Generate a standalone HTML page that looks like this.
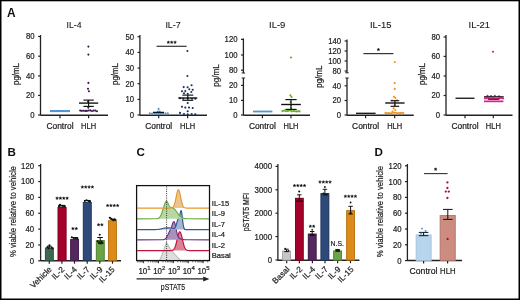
<!DOCTYPE html>
<html><head><meta charset="utf-8"><style>
html,body{margin:0;padding:0;background:#fff;}
svg{display:block;font-family:"Liberation Sans", sans-serif;}
svg{will-change:transform;}
</style></head><body>
<svg width="520" height="300" viewBox="0 0 520 300">
<rect x="0" y="0" width="520" height="300" fill="#fff"/>
<text x="6.90" y="16.70" font-size="11.9" text-anchor="start" font-weight="bold" fill="#111" stroke="#111" stroke-width="0" >A</text>
<text x="74.00" y="28.40" font-size="9.9" text-anchor="middle" font-weight="normal" fill="#1a1a1a" stroke="#1a1a1a" stroke-width="0.12" textLength="15" lengthAdjust="spacingAndGlyphs" >IL-4</text>
<line x1="40.50" y1="35.00" x2="40.50" y2="115.30" stroke="#222" stroke-width="1.3" />
<line x1="38.10" y1="115.00" x2="40.50" y2="115.00" stroke="#222" stroke-width="1.2" />
<text x="34.60" y="117.90" font-size="8.5" text-anchor="end" font-weight="normal" fill="#222" stroke="#222" stroke-width="0.22" textLength="4.3" lengthAdjust="spacingAndGlyphs" >0</text>
<line x1="38.10" y1="95.40" x2="40.50" y2="95.40" stroke="#222" stroke-width="1.2" />
<text x="34.60" y="98.30" font-size="8.5" text-anchor="end" font-weight="normal" fill="#222" stroke="#222" stroke-width="0.22" textLength="8.6" lengthAdjust="spacingAndGlyphs" >20</text>
<line x1="38.10" y1="75.90" x2="40.50" y2="75.90" stroke="#222" stroke-width="1.2" />
<text x="34.60" y="78.80" font-size="8.5" text-anchor="end" font-weight="normal" fill="#222" stroke="#222" stroke-width="0.22" textLength="8.6" lengthAdjust="spacingAndGlyphs" >40</text>
<line x1="38.10" y1="56.20" x2="40.50" y2="56.20" stroke="#222" stroke-width="1.2" />
<text x="34.60" y="59.10" font-size="8.5" text-anchor="end" font-weight="normal" fill="#222" stroke="#222" stroke-width="0.22" textLength="8.6" lengthAdjust="spacingAndGlyphs" >60</text>
<line x1="38.10" y1="36.50" x2="40.50" y2="36.50" stroke="#222" stroke-width="1.2" />
<text x="34.60" y="39.40" font-size="8.5" text-anchor="end" font-weight="normal" fill="#222" stroke="#222" stroke-width="0.22" textLength="8.6" lengthAdjust="spacingAndGlyphs" >80</text>
<line x1="40.50" y1="115.20" x2="108.00" y2="115.20" stroke="#222" stroke-width="1.35" />
<line x1="60.00" y1="115.20" x2="60.00" y2="118.20" stroke="#222" stroke-width="1.2" />
<line x1="88.60" y1="115.20" x2="88.60" y2="118.20" stroke="#222" stroke-width="1.2" />
<text x="60.00" y="128.60" font-size="8.2" text-anchor="middle" font-weight="normal" fill="#222" stroke="#222" stroke-width="0.22" textLength="27" lengthAdjust="spacingAndGlyphs" >Control</text>
<text x="88.60" y="128.60" font-size="8.2" text-anchor="middle" font-weight="normal" fill="#222" stroke="#222" stroke-width="0.22" textLength="15" lengthAdjust="spacingAndGlyphs" >HLH</text>
<text x="19.40" y="74.00" font-size="9.0" text-anchor="middle" font-weight="normal" fill="#222" stroke="#222" stroke-width="0.22" textLength="22" lengthAdjust="spacingAndGlyphs" transform="rotate(-90 19.4 74)" >pg/mL</text>
<rect x="50.00" y="110.00" width="20.00" height="2.10" fill="#4f95dc" />
<circle cx="88.40" cy="46.60" r="1.05" fill="#3a1555"/>
<circle cx="88.40" cy="54.60" r="1.05" fill="#3a1555"/>
<circle cx="88.40" cy="82.90" r="1.05" fill="#3a1555"/>
<circle cx="88.00" cy="88.70" r="1.05" fill="#3a1555"/>
<circle cx="88.90" cy="91.30" r="1.05" fill="#3a1555"/>
<circle cx="88.00" cy="101.70" r="1.05" fill="#3a1555"/>
<circle cx="88.30" cy="107.60" r="1.05" fill="#3a1555"/>
<circle cx="80.20" cy="110.59" r="1.05" fill="#3a1555"/>
<circle cx="81.88" cy="110.84" r="1.05" fill="#3a1555"/>
<circle cx="83.56" cy="110.70" r="1.05" fill="#3a1555"/>
<circle cx="85.24" cy="110.88" r="1.05" fill="#3a1555"/>
<circle cx="86.92" cy="110.90" r="1.05" fill="#3a1555"/>
<circle cx="88.60" cy="110.45" r="1.05" fill="#3a1555"/>
<circle cx="90.28" cy="110.41" r="1.05" fill="#3a1555"/>
<circle cx="91.96" cy="111.07" r="1.05" fill="#3a1555"/>
<circle cx="93.64" cy="110.61" r="1.05" fill="#3a1555"/>
<circle cx="95.32" cy="110.59" r="1.05" fill="#3a1555"/>
<circle cx="97.00" cy="111.20" r="1.05" fill="#3a1555"/>
<line x1="79.00" y1="103.10" x2="98.20" y2="103.10" stroke="#111" stroke-width="1.38" />
<line x1="83.40" y1="100.10" x2="93.80" y2="100.10" stroke="#111" stroke-width="1.15" />
<line x1="83.40" y1="106.40" x2="93.80" y2="106.40" stroke="#111" stroke-width="1.15" />
<line x1="88.60" y1="100.10" x2="88.60" y2="106.40" stroke="#111" stroke-width="1.15" />
<text x="173.10" y="28.40" font-size="9.9" text-anchor="middle" font-weight="normal" fill="#1a1a1a" stroke="#1a1a1a" stroke-width="0.12" textLength="15.4" lengthAdjust="spacingAndGlyphs" >IL-7</text>
<line x1="139.90" y1="35.00" x2="139.90" y2="115.30" stroke="#222" stroke-width="1.3" />
<line x1="137.50" y1="115.00" x2="139.90" y2="115.00" stroke="#222" stroke-width="1.2" />
<text x="134.00" y="117.90" font-size="8.5" text-anchor="end" font-weight="normal" fill="#222" stroke="#222" stroke-width="0.22" textLength="4.3" lengthAdjust="spacingAndGlyphs" >0</text>
<line x1="137.50" y1="99.40" x2="139.90" y2="99.40" stroke="#222" stroke-width="1.2" />
<text x="134.00" y="102.30" font-size="8.5" text-anchor="end" font-weight="normal" fill="#222" stroke="#222" stroke-width="0.22" textLength="8.6" lengthAdjust="spacingAndGlyphs" >10</text>
<line x1="137.50" y1="83.70" x2="139.90" y2="83.70" stroke="#222" stroke-width="1.2" />
<text x="134.00" y="86.60" font-size="8.5" text-anchor="end" font-weight="normal" fill="#222" stroke="#222" stroke-width="0.22" textLength="8.6" lengthAdjust="spacingAndGlyphs" >20</text>
<line x1="137.50" y1="68.10" x2="139.90" y2="68.10" stroke="#222" stroke-width="1.2" />
<text x="134.00" y="71.00" font-size="8.5" text-anchor="end" font-weight="normal" fill="#222" stroke="#222" stroke-width="0.22" textLength="8.6" lengthAdjust="spacingAndGlyphs" >30</text>
<line x1="137.50" y1="52.40" x2="139.90" y2="52.40" stroke="#222" stroke-width="1.2" />
<text x="134.00" y="55.30" font-size="8.5" text-anchor="end" font-weight="normal" fill="#222" stroke="#222" stroke-width="0.22" textLength="8.6" lengthAdjust="spacingAndGlyphs" >40</text>
<line x1="137.50" y1="36.80" x2="139.90" y2="36.80" stroke="#222" stroke-width="1.2" />
<text x="134.00" y="39.70" font-size="8.5" text-anchor="end" font-weight="normal" fill="#222" stroke="#222" stroke-width="0.22" textLength="8.6" lengthAdjust="spacingAndGlyphs" >50</text>
<line x1="139.90" y1="115.20" x2="207.00" y2="115.20" stroke="#222" stroke-width="1.35" />
<line x1="158.70" y1="115.20" x2="158.70" y2="118.20" stroke="#222" stroke-width="1.2" />
<line x1="187.60" y1="115.20" x2="187.60" y2="118.20" stroke="#222" stroke-width="1.2" />
<text x="158.70" y="128.60" font-size="8.2" text-anchor="middle" font-weight="normal" fill="#222" stroke="#222" stroke-width="0.22" textLength="27" lengthAdjust="spacingAndGlyphs" >Control</text>
<text x="187.60" y="128.60" font-size="8.2" text-anchor="middle" font-weight="normal" fill="#222" stroke="#222" stroke-width="0.22" textLength="15" lengthAdjust="spacingAndGlyphs" >HLH</text>
<text x="118.40" y="74.00" font-size="9.0" text-anchor="middle" font-weight="normal" fill="#222" stroke="#222" stroke-width="0.22" textLength="22" lengthAdjust="spacingAndGlyphs" transform="rotate(-90 118.4 74)" >pg/mL</text>
<line x1="156.60" y1="46.30" x2="186.60" y2="46.30" stroke="#333" stroke-width="1.2" />
<polygon points="168.35,40.75 168.77,41.72 169.82,41.82 169.03,42.52 169.26,43.55 168.35,43.02 167.44,43.55 167.67,42.52 166.88,41.82 167.93,41.72" fill="#111" stroke="#111" stroke-width="0.35"/>
<polygon points="171.70,40.75 172.12,41.72 173.17,41.82 172.38,42.52 172.61,43.55 171.70,43.02 170.79,43.55 171.02,42.52 170.23,41.82 171.28,41.72" fill="#111" stroke="#111" stroke-width="0.35"/>
<polygon points="175.05,40.75 175.47,41.72 176.52,41.82 175.73,42.52 175.96,43.55 175.05,43.02 174.14,43.55 174.37,42.52 173.58,41.82 174.63,41.72" fill="#111" stroke="#111" stroke-width="0.35"/>
<circle cx="187.40" cy="51.00" r="1.05" fill="#12306f"/>
<circle cx="187.40" cy="76.00" r="1.05" fill="#12306f"/>
<circle cx="191.60" cy="85.30" r="1.05" fill="#12306f"/>
<circle cx="183.70" cy="87.10" r="1.05" fill="#12306f"/>
<circle cx="187.60" cy="87.30" r="1.05" fill="#12306f"/>
<circle cx="189.30" cy="89.30" r="1.05" fill="#12306f"/>
<circle cx="192.70" cy="89.70" r="1.05" fill="#12306f"/>
<circle cx="182.00" cy="91.30" r="1.05" fill="#12306f"/>
<circle cx="185.30" cy="91.10" r="1.05" fill="#12306f"/>
<circle cx="191.30" cy="92.00" r="1.05" fill="#12306f"/>
<circle cx="184.00" cy="93.30" r="1.05" fill="#12306f"/>
<circle cx="187.70" cy="93.70" r="1.05" fill="#12306f"/>
<circle cx="180.00" cy="98.30" r="1.05" fill="#12306f"/>
<circle cx="183.30" cy="98.70" r="1.05" fill="#12306f"/>
<circle cx="187.70" cy="98.20" r="1.05" fill="#12306f"/>
<circle cx="192.00" cy="98.70" r="1.05" fill="#12306f"/>
<circle cx="195.30" cy="98.70" r="1.05" fill="#12306f"/>
<circle cx="187.70" cy="103.00" r="1.05" fill="#12306f"/>
<circle cx="182.00" cy="106.70" r="1.05" fill="#12306f"/>
<circle cx="185.30" cy="107.60" r="1.05" fill="#12306f"/>
<circle cx="189.00" cy="107.60" r="1.05" fill="#12306f"/>
<circle cx="192.70" cy="108.00" r="1.05" fill="#12306f"/>
<circle cx="187.70" cy="111.30" r="1.05" fill="#12306f"/>
<circle cx="180.00" cy="112.90" r="1.05" fill="#12306f"/>
<circle cx="184.00" cy="114.00" r="1.05" fill="#12306f"/>
<circle cx="187.70" cy="114.30" r="1.05" fill="#12306f"/>
<circle cx="191.70" cy="114.00" r="1.05" fill="#12306f"/>
<circle cx="195.30" cy="114.30" r="1.05" fill="#12306f"/>
<line x1="178.30" y1="98.00" x2="197.30" y2="98.00" stroke="#111" stroke-width="1.38" />
<line x1="182.30" y1="95.10" x2="193.30" y2="95.10" stroke="#111" stroke-width="1.15" />
<line x1="182.30" y1="100.30" x2="193.30" y2="100.30" stroke="#111" stroke-width="1.15" />
<line x1="187.80" y1="95.10" x2="187.80" y2="100.30" stroke="#111" stroke-width="1.15" />
<circle cx="149.80" cy="113.29" r="1.05" fill="#4f95dc"/>
<circle cx="152.05" cy="113.43" r="1.05" fill="#4f95dc"/>
<circle cx="154.30" cy="113.29" r="1.05" fill="#4f95dc"/>
<circle cx="156.55" cy="113.36" r="1.05" fill="#4f95dc"/>
<circle cx="158.80" cy="113.16" r="1.05" fill="#4f95dc"/>
<circle cx="161.05" cy="113.35" r="1.05" fill="#4f95dc"/>
<circle cx="163.30" cy="113.45" r="1.05" fill="#4f95dc"/>
<circle cx="165.55" cy="113.31" r="1.05" fill="#4f95dc"/>
<circle cx="167.80" cy="113.40" r="1.05" fill="#4f95dc"/>
<rect x="154.00" y="113.50" width="10.00" height="1.20" fill="#4f95dc" />
<circle cx="158.60" cy="108.90" r="1.05" fill="#4f95dc"/>
<circle cx="157.80" cy="111.60" r="1.05" fill="#4f95dc"/>
<circle cx="159.70" cy="111.60" r="1.05" fill="#4f95dc"/>
<line x1="153.00" y1="112.40" x2="164.00" y2="112.40" stroke="#111" stroke-width="1.3" />
<text x="277.20" y="28.40" font-size="9.9" text-anchor="middle" font-weight="normal" fill="#1a1a1a" stroke="#1a1a1a" stroke-width="0.12" textLength="16.4" lengthAdjust="spacingAndGlyphs" >IL-9</text>
<line x1="243.40" y1="38.40" x2="243.40" y2="73.00" stroke="#222" stroke-width="1.3" />
<line x1="241.70" y1="73.00" x2="245.10" y2="73.00" stroke="#222" stroke-width="1.0" />
<line x1="243.40" y1="78.00" x2="243.40" y2="115.30" stroke="#222" stroke-width="1.3" />
<line x1="241.70" y1="78.00" x2="245.10" y2="78.00" stroke="#222" stroke-width="1.0" />
<line x1="241.00" y1="39.40" x2="243.40" y2="39.40" stroke="#222" stroke-width="1.2" />
<text x="237.50" y="42.30" font-size="8.5" text-anchor="end" font-weight="normal" fill="#222" stroke="#222" stroke-width="0.22" textLength="12.899999999999999" lengthAdjust="spacingAndGlyphs" >120</text>
<line x1="241.00" y1="55.00" x2="243.40" y2="55.00" stroke="#222" stroke-width="1.2" />
<text x="237.50" y="57.90" font-size="8.5" text-anchor="end" font-weight="normal" fill="#222" stroke="#222" stroke-width="0.22" textLength="12.899999999999999" lengthAdjust="spacingAndGlyphs" >100</text>
<line x1="241.00" y1="70.20" x2="243.40" y2="70.20" stroke="#222" stroke-width="1.2" />
<text x="237.50" y="73.10" font-size="8.5" text-anchor="end" font-weight="normal" fill="#222" stroke="#222" stroke-width="0.22" textLength="8.6" lengthAdjust="spacingAndGlyphs" >80</text>
<line x1="241.00" y1="85.40" x2="243.40" y2="85.40" stroke="#222" stroke-width="1.2" />
<text x="237.50" y="88.30" font-size="8.5" text-anchor="end" font-weight="normal" fill="#222" stroke="#222" stroke-width="0.22" textLength="8.6" lengthAdjust="spacingAndGlyphs" >20</text>
<line x1="241.00" y1="100.40" x2="243.40" y2="100.40" stroke="#222" stroke-width="1.2" />
<text x="237.50" y="103.30" font-size="8.5" text-anchor="end" font-weight="normal" fill="#222" stroke="#222" stroke-width="0.22" textLength="8.6" lengthAdjust="spacingAndGlyphs" >10</text>
<line x1="241.00" y1="115.00" x2="243.40" y2="115.00" stroke="#222" stroke-width="1.2" />
<text x="237.50" y="117.90" font-size="8.5" text-anchor="end" font-weight="normal" fill="#222" stroke="#222" stroke-width="0.22" textLength="4.3" lengthAdjust="spacingAndGlyphs" >0</text>
<line x1="243.40" y1="115.20" x2="310.00" y2="115.20" stroke="#222" stroke-width="1.35" />
<line x1="262.40" y1="115.20" x2="262.40" y2="118.20" stroke="#222" stroke-width="1.2" />
<line x1="291.00" y1="115.20" x2="291.00" y2="118.20" stroke="#222" stroke-width="1.2" />
<text x="262.40" y="128.60" font-size="8.2" text-anchor="middle" font-weight="normal" fill="#222" stroke="#222" stroke-width="0.22" textLength="27" lengthAdjust="spacingAndGlyphs" >Control</text>
<text x="291.00" y="128.60" font-size="8.2" text-anchor="middle" font-weight="normal" fill="#222" stroke="#222" stroke-width="0.22" textLength="15" lengthAdjust="spacingAndGlyphs" >HLH</text>
<text x="218.80" y="75.60" font-size="9.0" text-anchor="middle" font-weight="normal" fill="#222" stroke="#222" stroke-width="0.22" textLength="22.5" lengthAdjust="spacingAndGlyphs" transform="rotate(-90 218.8 75.6)" >pg/mL</text>
<rect x="253.00" y="110.60" width="19.40" height="1.80" fill="#4f95dc" />
<circle cx="291.00" cy="57.50" r="1.05" fill="#5fae25"/>
<circle cx="290.40" cy="95.40" r="1.05" fill="#5fae25"/>
<circle cx="291.60" cy="97.00" r="1.05" fill="#5fae25"/>
<circle cx="290.70" cy="102.10" r="1.05" fill="#5fae25"/>
<circle cx="291.10" cy="105.00" r="1.05" fill="#5fae25"/>
<circle cx="291.00" cy="108.00" r="1.05" fill="#5fae25"/>
<circle cx="290.00" cy="110.00" r="1.05" fill="#5fae25"/>
<circle cx="282.50" cy="111.17" r="1.05" fill="#5fae25"/>
<circle cx="284.05" cy="110.56" r="1.05" fill="#5fae25"/>
<circle cx="285.59" cy="111.26" r="1.05" fill="#5fae25"/>
<circle cx="287.14" cy="111.09" r="1.05" fill="#5fae25"/>
<circle cx="288.68" cy="110.80" r="1.05" fill="#5fae25"/>
<circle cx="290.23" cy="110.53" r="1.05" fill="#5fae25"/>
<circle cx="291.77" cy="111.37" r="1.05" fill="#5fae25"/>
<circle cx="293.32" cy="110.97" r="1.05" fill="#5fae25"/>
<circle cx="294.86" cy="111.22" r="1.05" fill="#5fae25"/>
<circle cx="296.41" cy="111.38" r="1.05" fill="#5fae25"/>
<circle cx="297.95" cy="111.21" r="1.05" fill="#5fae25"/>
<circle cx="299.50" cy="111.42" r="1.05" fill="#5fae25"/>
<line x1="281.15" y1="104.50" x2="300.85" y2="104.50" stroke="#111" stroke-width="1.38" />
<line x1="285.35" y1="99.60" x2="296.65" y2="99.60" stroke="#111" stroke-width="1.15" />
<line x1="285.35" y1="109.40" x2="296.65" y2="109.40" stroke="#111" stroke-width="1.15" />
<line x1="291.00" y1="99.60" x2="291.00" y2="109.40" stroke="#111" stroke-width="1.15" />
<text x="380.70" y="28.40" font-size="9.9" text-anchor="middle" font-weight="normal" fill="#1a1a1a" stroke="#1a1a1a" stroke-width="0.12" textLength="21.5" lengthAdjust="spacingAndGlyphs" >IL-15</text>
<line x1="347.00" y1="39.50" x2="347.00" y2="72.80" stroke="#222" stroke-width="1.3" />
<line x1="345.30" y1="72.80" x2="348.70" y2="72.80" stroke="#222" stroke-width="1.0" />
<line x1="347.00" y1="78.00" x2="347.00" y2="115.30" stroke="#222" stroke-width="1.3" />
<line x1="345.30" y1="78.00" x2="348.70" y2="78.00" stroke="#222" stroke-width="1.0" />
<line x1="344.60" y1="41.00" x2="347.00" y2="41.00" stroke="#222" stroke-width="1.2" />
<text x="341.10" y="43.90" font-size="8.5" text-anchor="end" font-weight="normal" fill="#222" stroke="#222" stroke-width="0.22" textLength="12.899999999999999" lengthAdjust="spacingAndGlyphs" >140</text>
<line x1="344.60" y1="51.00" x2="347.00" y2="51.00" stroke="#222" stroke-width="1.2" />
<text x="341.10" y="53.90" font-size="8.5" text-anchor="end" font-weight="normal" fill="#222" stroke="#222" stroke-width="0.22" textLength="12.899999999999999" lengthAdjust="spacingAndGlyphs" >120</text>
<line x1="344.60" y1="61.00" x2="347.00" y2="61.00" stroke="#222" stroke-width="1.2" />
<text x="341.10" y="63.90" font-size="8.5" text-anchor="end" font-weight="normal" fill="#222" stroke="#222" stroke-width="0.22" textLength="12.899999999999999" lengthAdjust="spacingAndGlyphs" >100</text>
<line x1="344.60" y1="71.00" x2="347.00" y2="71.00" stroke="#222" stroke-width="1.2" />
<text x="341.10" y="73.90" font-size="8.5" text-anchor="end" font-weight="normal" fill="#222" stroke="#222" stroke-width="0.22" textLength="8.6" lengthAdjust="spacingAndGlyphs" >80</text>
<line x1="344.60" y1="85.80" x2="347.00" y2="85.80" stroke="#222" stroke-width="1.2" />
<text x="341.10" y="88.70" font-size="8.5" text-anchor="end" font-weight="normal" fill="#222" stroke="#222" stroke-width="0.22" textLength="8.6" lengthAdjust="spacingAndGlyphs" >40</text>
<line x1="344.60" y1="100.50" x2="347.00" y2="100.50" stroke="#222" stroke-width="1.2" />
<text x="341.10" y="103.40" font-size="8.5" text-anchor="end" font-weight="normal" fill="#222" stroke="#222" stroke-width="0.22" textLength="8.6" lengthAdjust="spacingAndGlyphs" >20</text>
<line x1="344.60" y1="115.00" x2="347.00" y2="115.00" stroke="#222" stroke-width="1.2" />
<text x="341.10" y="117.90" font-size="8.5" text-anchor="end" font-weight="normal" fill="#222" stroke="#222" stroke-width="0.22" textLength="4.3" lengthAdjust="spacingAndGlyphs" >0</text>
<line x1="347.00" y1="115.20" x2="413.70" y2="115.20" stroke="#222" stroke-width="1.35" />
<line x1="365.60" y1="115.20" x2="365.60" y2="118.20" stroke="#222" stroke-width="1.2" />
<line x1="394.70" y1="115.20" x2="394.70" y2="118.20" stroke="#222" stroke-width="1.2" />
<text x="365.60" y="128.60" font-size="8.2" text-anchor="middle" font-weight="normal" fill="#222" stroke="#222" stroke-width="0.22" textLength="27" lengthAdjust="spacingAndGlyphs" >Control</text>
<text x="394.70" y="128.60" font-size="8.2" text-anchor="middle" font-weight="normal" fill="#222" stroke="#222" stroke-width="0.22" textLength="15" lengthAdjust="spacingAndGlyphs" >HLH</text>
<text x="322.10" y="76.70" font-size="9.0" text-anchor="middle" font-weight="normal" fill="#222" stroke="#222" stroke-width="0.22" textLength="22" lengthAdjust="spacingAndGlyphs" transform="rotate(-90 322.1 76.7)" >pg/mL</text>
<line x1="363.40" y1="53.60" x2="393.40" y2="53.60" stroke="#333" stroke-width="1.2" />
<polygon points="378.40,48.05 378.82,49.02 379.87,49.12 379.08,49.82 379.31,50.85 378.40,50.32 377.49,50.85 377.72,49.82 376.93,49.12 377.98,49.02" fill="#111" stroke="#111" stroke-width="0.35"/>
<line x1="356.00" y1="113.30" x2="375.60" y2="113.30" stroke="#111" stroke-width="1.3" />
<circle cx="394.80" cy="62.00" r="1.05" fill="#ee9320"/>
<circle cx="394.70" cy="83.10" r="1.05" fill="#ee9320"/>
<circle cx="394.70" cy="88.90" r="1.05" fill="#ee9320"/>
<circle cx="394.00" cy="96.70" r="1.05" fill="#ee9320"/>
<circle cx="395.30" cy="98.00" r="1.05" fill="#ee9320"/>
<circle cx="392.00" cy="100.50" r="1.05" fill="#ee9320"/>
<circle cx="397.00" cy="100.30" r="1.05" fill="#ee9320"/>
<circle cx="394.70" cy="104.70" r="1.05" fill="#ee9320"/>
<circle cx="393.70" cy="108.40" r="1.05" fill="#ee9320"/>
<circle cx="395.30" cy="110.00" r="1.05" fill="#ee9320"/>
<circle cx="392.50" cy="111.50" r="1.05" fill="#ee9320"/>
<circle cx="385.50" cy="112.92" r="1.05" fill="#ee9320"/>
<circle cx="386.98" cy="113.24" r="1.05" fill="#ee9320"/>
<circle cx="388.47" cy="112.96" r="1.05" fill="#ee9320"/>
<circle cx="389.95" cy="113.35" r="1.05" fill="#ee9320"/>
<circle cx="391.43" cy="113.30" r="1.05" fill="#ee9320"/>
<circle cx="392.92" cy="112.68" r="1.05" fill="#ee9320"/>
<circle cx="394.40" cy="112.71" r="1.05" fill="#ee9320"/>
<circle cx="395.88" cy="112.77" r="1.05" fill="#ee9320"/>
<circle cx="397.37" cy="113.37" r="1.05" fill="#ee9320"/>
<circle cx="398.85" cy="112.95" r="1.05" fill="#ee9320"/>
<circle cx="400.33" cy="113.10" r="1.05" fill="#ee9320"/>
<circle cx="401.82" cy="112.84" r="1.05" fill="#ee9320"/>
<circle cx="403.30" cy="113.01" r="1.05" fill="#ee9320"/>
<line x1="385.20" y1="103.00" x2="404.60" y2="103.00" stroke="#111" stroke-width="1.38" />
<line x1="390.60" y1="100.70" x2="399.20" y2="100.70" stroke="#111" stroke-width="1.15" />
<line x1="390.60" y1="106.30" x2="399.20" y2="106.30" stroke="#111" stroke-width="1.15" />
<line x1="394.90" y1="100.70" x2="394.90" y2="106.30" stroke="#111" stroke-width="1.15" />
<text x="479.30" y="28.40" font-size="9.9" text-anchor="middle" font-weight="normal" fill="#1a1a1a" stroke="#1a1a1a" stroke-width="0.12" textLength="21.5" lengthAdjust="spacingAndGlyphs" >IL-21</text>
<line x1="446.00" y1="35.00" x2="446.00" y2="115.30" stroke="#222" stroke-width="1.3" />
<line x1="443.60" y1="115.00" x2="446.00" y2="115.00" stroke="#222" stroke-width="1.2" />
<text x="440.10" y="117.90" font-size="8.5" text-anchor="end" font-weight="normal" fill="#222" stroke="#222" stroke-width="0.22" textLength="4.3" lengthAdjust="spacingAndGlyphs" >0</text>
<line x1="443.60" y1="95.50" x2="446.00" y2="95.50" stroke="#222" stroke-width="1.2" />
<text x="440.10" y="98.40" font-size="8.5" text-anchor="end" font-weight="normal" fill="#222" stroke="#222" stroke-width="0.22" textLength="8.6" lengthAdjust="spacingAndGlyphs" >20</text>
<line x1="443.60" y1="76.00" x2="446.00" y2="76.00" stroke="#222" stroke-width="1.2" />
<text x="440.10" y="78.90" font-size="8.5" text-anchor="end" font-weight="normal" fill="#222" stroke="#222" stroke-width="0.22" textLength="8.6" lengthAdjust="spacingAndGlyphs" >40</text>
<line x1="443.60" y1="56.40" x2="446.00" y2="56.40" stroke="#222" stroke-width="1.2" />
<text x="440.10" y="59.30" font-size="8.5" text-anchor="end" font-weight="normal" fill="#222" stroke="#222" stroke-width="0.22" textLength="8.6" lengthAdjust="spacingAndGlyphs" >60</text>
<line x1="443.60" y1="37.00" x2="446.00" y2="37.00" stroke="#222" stroke-width="1.2" />
<text x="440.10" y="39.90" font-size="8.5" text-anchor="end" font-weight="normal" fill="#222" stroke="#222" stroke-width="0.22" textLength="8.6" lengthAdjust="spacingAndGlyphs" >80</text>
<line x1="446.00" y1="115.20" x2="512.50" y2="115.20" stroke="#222" stroke-width="1.35" />
<line x1="465.00" y1="115.20" x2="465.00" y2="118.20" stroke="#222" stroke-width="1.2" />
<line x1="493.30" y1="115.20" x2="493.30" y2="118.20" stroke="#222" stroke-width="1.2" />
<text x="465.00" y="128.60" font-size="8.2" text-anchor="middle" font-weight="normal" fill="#222" stroke="#222" stroke-width="0.22" textLength="27" lengthAdjust="spacingAndGlyphs" >Control</text>
<text x="493.30" y="128.60" font-size="8.2" text-anchor="middle" font-weight="normal" fill="#222" stroke="#222" stroke-width="0.22" textLength="15" lengthAdjust="spacingAndGlyphs" >HLH</text>
<text x="425.40" y="74.00" font-size="9.0" text-anchor="middle" font-weight="normal" fill="#222" stroke="#222" stroke-width="0.22" textLength="22" lengthAdjust="spacingAndGlyphs" transform="rotate(-90 425.4 74)" >pg/mL</text>
<line x1="455.50" y1="98.25" x2="474.50" y2="98.25" stroke="#111" stroke-width="1.3" />
<circle cx="493.00" cy="51.80" r="1.05" fill="#d61f87"/>
<circle cx="485.00" cy="97.93" r="1.05" fill="#d61f87"/>
<circle cx="486.64" cy="97.91" r="1.05" fill="#d61f87"/>
<circle cx="488.27" cy="98.05" r="1.05" fill="#d61f87"/>
<circle cx="489.91" cy="98.05" r="1.05" fill="#d61f87"/>
<circle cx="491.55" cy="98.24" r="1.05" fill="#d61f87"/>
<circle cx="493.18" cy="98.11" r="1.05" fill="#d61f87"/>
<circle cx="494.82" cy="98.26" r="1.05" fill="#d61f87"/>
<circle cx="496.45" cy="98.21" r="1.05" fill="#d61f87"/>
<circle cx="498.09" cy="98.29" r="1.05" fill="#d61f87"/>
<circle cx="499.73" cy="98.10" r="1.05" fill="#d61f87"/>
<circle cx="501.36" cy="97.80" r="1.05" fill="#d61f87"/>
<circle cx="503.00" cy="98.22" r="1.05" fill="#d61f87"/>
<circle cx="487.50" cy="95.70" r="1.05" fill="#d61f87"/>
<circle cx="494.80" cy="95.70" r="1.05" fill="#d61f87"/>
<circle cx="491.00" cy="96.00" r="1.05" fill="#d61f87"/>
<circle cx="499.00" cy="96.30" r="1.05" fill="#d61f87"/>
<line x1="484.00" y1="96.70" x2="503.70" y2="96.70" stroke="#111" stroke-width="1.0" />
<circle cx="485.00" cy="98.49" r="0.9" fill="#d61f87"/>
<circle cx="487.00" cy="98.46" r="0.9" fill="#d61f87"/>
<circle cx="489.00" cy="98.33" r="0.9" fill="#d61f87"/>
<circle cx="491.00" cy="98.39" r="0.9" fill="#d61f87"/>
<circle cx="493.00" cy="98.18" r="0.9" fill="#d61f87"/>
<circle cx="495.00" cy="98.43" r="0.9" fill="#d61f87"/>
<circle cx="497.00" cy="98.33" r="0.9" fill="#d61f87"/>
<circle cx="499.00" cy="98.21" r="0.9" fill="#d61f87"/>
<circle cx="501.00" cy="98.13" r="0.9" fill="#d61f87"/>
<circle cx="503.00" cy="98.44" r="0.9" fill="#d61f87"/>
<line x1="488.00" y1="99.30" x2="499.40" y2="99.30" stroke="#111" stroke-width="1.0" />
<rect x="484.00" y="100.50" width="19.40" height="1.70" fill="#d61f87" />
<text x="7.60" y="155.70" font-size="11.6" text-anchor="start" font-weight="bold" fill="#111" stroke="#111" stroke-width="0" >B</text>
<line x1="40.60" y1="164.00" x2="40.60" y2="261.00" stroke="#222" stroke-width="1.3" />
<line x1="38.20" y1="260.80" x2="40.60" y2="260.80" stroke="#222" stroke-width="1.2" />
<text x="34.00" y="263.70" font-size="8.5" text-anchor="end" font-weight="normal" fill="#222" stroke="#222" stroke-width="0.22" textLength="4.3" lengthAdjust="spacingAndGlyphs" >0</text>
<line x1="38.20" y1="244.95" x2="40.60" y2="244.95" stroke="#222" stroke-width="1.2" />
<text x="34.00" y="247.85" font-size="8.5" text-anchor="end" font-weight="normal" fill="#222" stroke="#222" stroke-width="0.22" textLength="8.6" lengthAdjust="spacingAndGlyphs" >20</text>
<line x1="38.20" y1="229.10" x2="40.60" y2="229.10" stroke="#222" stroke-width="1.2" />
<text x="34.00" y="232.00" font-size="8.5" text-anchor="end" font-weight="normal" fill="#222" stroke="#222" stroke-width="0.22" textLength="8.6" lengthAdjust="spacingAndGlyphs" >40</text>
<line x1="38.20" y1="213.25" x2="40.60" y2="213.25" stroke="#222" stroke-width="1.2" />
<text x="34.00" y="216.15" font-size="8.5" text-anchor="end" font-weight="normal" fill="#222" stroke="#222" stroke-width="0.22" textLength="8.6" lengthAdjust="spacingAndGlyphs" >60</text>
<line x1="38.20" y1="197.40" x2="40.60" y2="197.40" stroke="#222" stroke-width="1.2" />
<text x="34.00" y="200.30" font-size="8.5" text-anchor="end" font-weight="normal" fill="#222" stroke="#222" stroke-width="0.22" textLength="8.6" lengthAdjust="spacingAndGlyphs" >80</text>
<line x1="38.20" y1="181.55" x2="40.60" y2="181.55" stroke="#222" stroke-width="1.2" />
<text x="34.00" y="184.45" font-size="8.5" text-anchor="end" font-weight="normal" fill="#222" stroke="#222" stroke-width="0.22" textLength="12.899999999999999" lengthAdjust="spacingAndGlyphs" >100</text>
<line x1="38.20" y1="165.70" x2="40.60" y2="165.70" stroke="#222" stroke-width="1.2" />
<text x="34.00" y="168.60" font-size="8.5" text-anchor="end" font-weight="normal" fill="#222" stroke="#222" stroke-width="0.22" textLength="12.899999999999999" lengthAdjust="spacingAndGlyphs" >120</text>
<line x1="40.80" y1="260.70" x2="121.00" y2="260.70" stroke="#222" stroke-width="1.35" />
<line x1="49.30" y1="260.70" x2="49.30" y2="263.70" stroke="#222" stroke-width="1.2" />
<line x1="61.90" y1="260.70" x2="61.90" y2="263.70" stroke="#222" stroke-width="1.2" />
<line x1="74.50" y1="260.70" x2="74.50" y2="263.70" stroke="#222" stroke-width="1.2" />
<line x1="87.20" y1="260.70" x2="87.20" y2="263.70" stroke="#222" stroke-width="1.2" />
<line x1="99.80" y1="260.70" x2="99.80" y2="263.70" stroke="#222" stroke-width="1.2" />
<line x1="112.50" y1="260.70" x2="112.50" y2="263.70" stroke="#222" stroke-width="1.2" />
<text x="15.70" y="211.60" font-size="9.1" text-anchor="middle" font-weight="normal" fill="#222" stroke="#222" stroke-width="0.22" textLength="91" lengthAdjust="spacingAndGlyphs" transform="rotate(-90 15.7 211.6)" >% viable relative to vehicle</text>
<rect x="44.95" y="247.70" width="8.70" height="13.00" fill="#3a6850"/>
<rect x="45.35" y="248.10" width="7.90" height="12.60" fill="none" stroke="#2e5340" stroke-width="0.8"/>
<text x="52.20" y="270.00" font-size="8.2" text-anchor="end" font-weight="normal" fill="#222" stroke="#222" stroke-width="0.22" transform="rotate(-45 52.199999999999996 270.0)" >Vehicle</text>
<rect x="57.70" y="207.00" width="8.70" height="53.70" fill="#a3002a"/>
<rect x="58.10" y="207.40" width="7.90" height="53.30" fill="none" stroke="#820021" stroke-width="0.8"/>
<text x="64.95" y="270.00" font-size="8.2" text-anchor="end" font-weight="normal" fill="#222" stroke="#222" stroke-width="0.22" transform="rotate(-45 64.95 270.0)" >IL-2</text>
<rect x="70.25" y="239.10" width="8.70" height="21.60" fill="#54285f"/>
<rect x="70.65" y="239.50" width="7.90" height="21.20" fill="none" stroke="#43204c" stroke-width="0.8"/>
<text x="77.50" y="270.00" font-size="8.2" text-anchor="end" font-weight="normal" fill="#222" stroke="#222" stroke-width="0.22" transform="rotate(-45 77.5 270.0)" >IL-4</text>
<rect x="82.90" y="202.00" width="8.70" height="58.70" fill="#2e4a78"/>
<rect x="83.30" y="202.40" width="7.90" height="58.30" fill="none" stroke="#243b60" stroke-width="0.8"/>
<text x="90.15" y="270.00" font-size="8.2" text-anchor="end" font-weight="normal" fill="#222" stroke="#222" stroke-width="0.22" transform="rotate(-45 90.15 270.0)" >IL-7</text>
<rect x="95.90" y="240.20" width="8.70" height="20.50" fill="#6aa444"/>
<rect x="96.30" y="240.60" width="7.90" height="20.10" fill="none" stroke="#548336" stroke-width="0.8"/>
<text x="103.15" y="270.00" font-size="8.2" text-anchor="end" font-weight="normal" fill="#222" stroke="#222" stroke-width="0.22" transform="rotate(-45 103.15 270.0)" >IL-9</text>
<rect x="108.10" y="220.40" width="8.70" height="40.30" fill="#dc8a18"/>
<rect x="108.50" y="220.80" width="7.90" height="39.90" fill="none" stroke="#b06e13" stroke-width="0.8"/>
<text x="115.35" y="270.00" font-size="8.2" text-anchor="end" font-weight="normal" fill="#222" stroke="#222" stroke-width="0.22" transform="rotate(-45 115.35000000000001 270.0)" >IL-15</text>
<line x1="47.00" y1="246.20" x2="51.60" y2="246.20" stroke="#111" stroke-width="1.0" />
<line x1="49.30" y1="245.00" x2="49.30" y2="248.50" stroke="#111" stroke-width="1.0" />
<circle cx="47.30" cy="247.20" r="1.0" fill="#111"/>
<circle cx="49.50" cy="245.20" r="1.0" fill="#111"/>
<circle cx="51.70" cy="247.50" r="1.0" fill="#111"/>
<circle cx="52.60" cy="248.60" r="1.0" fill="#111"/>
<circle cx="48.60" cy="248.30" r="1.0" fill="#111"/>
<line x1="58.20" y1="205.40" x2="65.20" y2="205.40" stroke="#111" stroke-width="1.1" />
<circle cx="59.00" cy="206.20" r="1.05" fill="#111"/>
<circle cx="61.00" cy="205.70" r="1.05" fill="#111"/>
<circle cx="63.00" cy="206.20" r="1.05" fill="#111"/>
<circle cx="64.80" cy="206.40" r="1.05" fill="#111"/>
<circle cx="60.00" cy="204.90" r="1.05" fill="#111"/>
<line x1="71.20" y1="237.60" x2="78.00" y2="237.60" stroke="#111" stroke-width="1.1" />
<circle cx="71.80" cy="237.30" r="1.05" fill="#111"/>
<circle cx="73.80" cy="238.30" r="1.05" fill="#111"/>
<circle cx="75.80" cy="238.40" r="1.05" fill="#111"/>
<circle cx="77.40" cy="238.60" r="1.05" fill="#111"/>
<line x1="84.00" y1="200.50" x2="90.40" y2="200.50" stroke="#111" stroke-width="1.1" />
<circle cx="84.80" cy="201.00" r="1.05" fill="#111"/>
<circle cx="86.50" cy="200.20" r="1.05" fill="#111"/>
<circle cx="88.50" cy="201.00" r="1.05" fill="#111"/>
<circle cx="90.00" cy="201.40" r="1.05" fill="#111"/>
<circle cx="99.70" cy="234.70" r="1.0" fill="#111"/>
<line x1="97.20" y1="237.50" x2="102.90" y2="237.50" stroke="#111" stroke-width="1.0" />
<line x1="100.20" y1="237.50" x2="100.20" y2="241.50" stroke="#111" stroke-width="1.0" />
<circle cx="97.80" cy="241.40" r="1.05" fill="#111"/>
<circle cx="99.60" cy="242.20" r="1.05" fill="#111"/>
<circle cx="101.60" cy="241.60" r="1.05" fill="#111"/>
<circle cx="102.60" cy="243.00" r="1.05" fill="#111"/>
<circle cx="99.00" cy="243.20" r="1.05" fill="#111"/>
<circle cx="101.00" cy="243.40" r="1.05" fill="#111"/>
<circle cx="109.90" cy="217.80" r="1.15" fill="#111"/>
<circle cx="111.20" cy="219.00" r="1.15" fill="#111"/>
<circle cx="112.80" cy="219.60" r="1.15" fill="#111"/>
<circle cx="114.40" cy="219.40" r="1.15" fill="#111"/>
<circle cx="115.30" cy="219.80" r="1.15" fill="#111"/>
<circle cx="113.50" cy="220.20" r="1.15" fill="#111"/>
<polygon points="57.08,196.65 57.50,197.62 58.55,197.72 57.76,198.42 57.99,199.45 57.08,198.92 56.16,199.45 56.39,198.42 55.60,197.72 56.65,197.62" fill="#111" stroke="#111" stroke-width="0.35"/>
<polygon points="60.43,196.65 60.85,197.62 61.90,197.72 61.11,198.42 61.34,199.45 60.43,198.92 59.51,199.45 59.74,198.42 58.95,197.72 60.00,197.62" fill="#111" stroke="#111" stroke-width="0.35"/>
<polygon points="63.78,196.65 64.20,197.62 65.25,197.72 64.46,198.42 64.69,199.45 63.78,198.92 62.86,199.45 63.09,198.42 62.30,197.72 63.35,197.62" fill="#111" stroke="#111" stroke-width="0.35"/>
<polygon points="67.12,196.65 67.55,197.62 68.60,197.72 67.81,198.42 68.04,199.45 67.12,198.92 66.21,199.45 66.44,198.42 65.65,197.72 66.70,197.62" fill="#111" stroke="#111" stroke-width="0.35"/>
<polygon points="72.92,227.05 73.35,228.02 74.40,228.12 73.61,228.82 73.84,229.85 72.92,229.32 72.01,229.85 72.24,228.82 71.45,228.12 72.50,228.02" fill="#111" stroke="#111" stroke-width="0.35"/>
<polygon points="76.27,227.05 76.70,228.02 77.75,228.12 76.96,228.82 77.19,229.85 76.27,229.32 75.36,229.85 75.59,228.82 74.80,228.12 75.85,228.02" fill="#111" stroke="#111" stroke-width="0.35"/>
<polygon points="82.38,185.45 82.80,186.42 83.85,186.52 83.06,187.22 83.29,188.25 82.38,187.72 81.46,188.25 81.69,187.22 80.90,186.52 81.95,186.42" fill="#111" stroke="#111" stroke-width="0.35"/>
<polygon points="85.72,185.45 86.15,186.42 87.20,186.52 86.41,187.22 86.64,188.25 85.72,187.72 84.81,188.25 85.04,187.22 84.25,186.52 85.30,186.42" fill="#111" stroke="#111" stroke-width="0.35"/>
<polygon points="89.08,185.45 89.50,186.42 90.55,186.52 89.76,187.22 89.99,188.25 89.08,187.72 88.16,188.25 88.39,187.22 87.60,186.52 88.65,186.42" fill="#111" stroke="#111" stroke-width="0.35"/>
<polygon points="92.42,185.45 92.85,186.42 93.90,186.52 93.11,187.22 93.34,188.25 92.42,187.72 91.51,188.25 91.74,187.22 90.95,186.52 92.00,186.42" fill="#111" stroke="#111" stroke-width="0.35"/>
<polygon points="98.53,223.25 98.95,224.22 100.00,224.32 99.21,225.02 99.44,226.05 98.53,225.52 97.61,226.05 97.84,225.02 97.05,224.32 98.10,224.22" fill="#111" stroke="#111" stroke-width="0.35"/>
<polygon points="101.88,223.25 102.30,224.22 103.35,224.32 102.56,225.02 102.79,226.05 101.88,225.52 100.96,226.05 101.19,225.02 100.40,224.32 101.45,224.22" fill="#111" stroke="#111" stroke-width="0.35"/>
<polygon points="107.57,203.95 108.00,204.92 109.05,205.02 108.26,205.72 108.49,206.75 107.57,206.22 106.66,206.75 106.89,205.72 106.10,205.02 107.15,204.92" fill="#111" stroke="#111" stroke-width="0.35"/>
<polygon points="110.92,203.95 111.35,204.92 112.40,205.02 111.61,205.72 111.84,206.75 110.92,206.22 110.01,206.75 110.24,205.72 109.45,205.02 110.50,204.92" fill="#111" stroke="#111" stroke-width="0.35"/>
<polygon points="114.27,203.95 114.70,204.92 115.75,205.02 114.96,205.72 115.19,206.75 114.27,206.22 113.36,206.75 113.59,205.72 112.80,205.02 113.85,204.92" fill="#111" stroke="#111" stroke-width="0.35"/>
<polygon points="117.62,203.95 118.05,204.92 119.10,205.02 118.31,205.72 118.54,206.75 117.62,206.22 116.71,206.75 116.94,205.72 116.15,205.02 117.20,204.92" fill="#111" stroke="#111" stroke-width="0.35"/>
<text x="136.40" y="156.10" font-size="11.6" text-anchor="start" font-weight="bold" fill="#111" stroke="#111" stroke-width="0" >C</text>
<path d="M 137.20 260.30 L 159.31 260.30 L 159.61 260.15 L 159.91 259.62 L 160.20 259.01 L 160.50 258.36 L 160.80 257.69 L 161.10 256.99 L 161.40 256.26 L 161.70 255.53 L 162.00 254.77 L 162.29 254.00 L 162.59 253.22 L 162.89 252.43 L 163.19 251.63 L 163.49 250.82 L 163.79 250.00 L 164.09 249.17 L 164.39 248.33 L 164.69 247.49 L 164.98 246.63 L 165.28 245.77 L 165.58 244.91 L 165.88 244.03 L 166.18 243.15 L 166.48 242.63 L 166.78 243.11 L 167.07 243.60 L 167.37 244.08 L 167.67 244.57 L 167.97 245.06 L 168.27 245.54 L 168.57 246.03 L 168.87 246.52 L 169.17 247.00 L 169.47 247.49 L 169.76 247.97 L 170.06 248.46 L 170.36 248.95 L 170.66 249.43 L 170.96 249.92 L 171.26 250.41 L 171.56 250.86 L 171.85 251.20 L 172.15 251.53 L 172.45 251.86 L 172.75 252.20 L 173.05 252.53 L 173.35 252.86 L 173.65 253.18 L 173.95 253.51 L 174.25 253.83 L 174.54 254.16 L 174.84 254.48 L 175.14 254.80 L 175.44 255.12 L 175.74 255.44 L 176.04 255.75 L 176.34 256.06 L 176.63 256.37 L 176.93 256.68 L 177.23 256.99 L 177.53 257.29 L 177.83 257.59 L 178.13 257.89 L 178.43 258.19 L 178.73 258.48 L 179.03 258.76 L 179.32 259.05 L 179.62 259.32 L 179.92 259.59 L 180.22 259.85 L 180.52 260.10 L 180.82 260.30 L 208.90 260.30 L 208.9 260.30 L 137.2 260.30 Z" fill="#dedede" fill-opacity="1.0" stroke="none"/>
<path d="M 137.20 260.30 L 159.31 260.30 L 159.61 260.15 L 159.91 259.62 L 160.20 259.01 L 160.50 258.36 L 160.80 257.69 L 161.10 256.99 L 161.40 256.26 L 161.70 255.53 L 162.00 254.77 L 162.29 254.00 L 162.59 253.22 L 162.89 252.43 L 163.19 251.63 L 163.49 250.82 L 163.79 250.00 L 164.09 249.17 L 164.39 248.33 L 164.69 247.49 L 164.98 246.63 L 165.28 245.77 L 165.58 244.91 L 165.88 244.03 L 166.18 243.15 L 166.48 242.63 L 166.78 243.11 L 167.07 243.60 L 167.37 244.08 L 167.67 244.57 L 167.97 245.06 L 168.27 245.54 L 168.57 246.03 L 168.87 246.52 L 169.17 247.00 L 169.47 247.49 L 169.76 247.97 L 170.06 248.46 L 170.36 248.95 L 170.66 249.43 L 170.96 249.92 L 171.26 250.41 L 171.56 250.86 L 171.85 251.20 L 172.15 251.53 L 172.45 251.86 L 172.75 252.20 L 173.05 252.53 L 173.35 252.86 L 173.65 253.18 L 173.95 253.51 L 174.25 253.83 L 174.54 254.16 L 174.84 254.48 L 175.14 254.80 L 175.44 255.12 L 175.74 255.44 L 176.04 255.75 L 176.34 256.06 L 176.63 256.37 L 176.93 256.68 L 177.23 256.99 L 177.53 257.29 L 177.83 257.59 L 178.13 257.89 L 178.43 258.19 L 178.73 258.48 L 179.03 258.76 L 179.32 259.05 L 179.62 259.32 L 179.92 259.59 L 180.22 259.85 L 180.52 260.10 L 180.82 260.30 L 208.90 260.30" fill="none" stroke="#bdbdbd" stroke-width="1.15"/>
<path d="M 137.20 250.60 L 170.06 250.58 L 170.36 250.57 L 170.66 250.56 L 170.96 250.54 L 171.26 250.51 L 171.56 250.48 L 171.85 250.42 L 172.15 250.35 L 172.45 250.25 L 172.75 250.12 L 173.05 249.95 L 173.35 249.73 L 173.65 249.46 L 173.95 249.11 L 174.25 248.68 L 174.54 248.16 L 174.84 247.55 L 175.14 246.82 L 175.44 245.99 L 175.74 245.05 L 176.04 244.00 L 176.34 242.86 L 176.63 241.64 L 176.93 240.36 L 177.23 239.05 L 177.53 237.75 L 177.83 236.49 L 178.13 235.31 L 178.43 234.25 L 178.73 233.34 L 179.03 232.62 L 179.32 232.11 L 179.62 231.84 L 179.92 231.82 L 180.22 232.04 L 180.52 232.50 L 180.82 233.19 L 181.12 234.06 L 181.41 235.10 L 181.71 236.26 L 182.01 237.51 L 182.31 238.81 L 182.61 240.12 L 182.91 241.40 L 183.21 242.64 L 183.51 243.79 L 183.81 244.86 L 184.10 245.82 L 184.40 246.68 L 184.70 247.42 L 185.00 248.06 L 185.30 248.59 L 185.60 249.04 L 185.90 249.40 L 186.19 249.69 L 186.49 249.92 L 186.79 250.09 L 187.09 250.23 L 187.39 250.33 L 187.69 250.41 L 187.99 250.47 L 188.29 250.51 L 188.59 250.54 L 188.88 250.56 L 189.18 250.57 L 189.48 250.58 L 208.90 250.60 L 208.9 250.60 L 137.2 250.60 Z" fill="#d98398" fill-opacity="1.0" stroke="none"/>
<path d="M 137.20 250.60 L 170.06 250.58 L 170.36 250.57 L 170.66 250.56 L 170.96 250.54 L 171.26 250.51 L 171.56 250.48 L 171.85 250.42 L 172.15 250.35 L 172.45 250.25 L 172.75 250.12 L 173.05 249.95 L 173.35 249.73 L 173.65 249.46 L 173.95 249.11 L 174.25 248.68 L 174.54 248.16 L 174.84 247.55 L 175.14 246.82 L 175.44 245.99 L 175.74 245.05 L 176.04 244.00 L 176.34 242.86 L 176.63 241.64 L 176.93 240.36 L 177.23 239.05 L 177.53 237.75 L 177.83 236.49 L 178.13 235.31 L 178.43 234.25 L 178.73 233.34 L 179.03 232.62 L 179.32 232.11 L 179.62 231.84 L 179.92 231.82 L 180.22 232.04 L 180.52 232.50 L 180.82 233.19 L 181.12 234.06 L 181.41 235.10 L 181.71 236.26 L 182.01 237.51 L 182.31 238.81 L 182.61 240.12 L 182.91 241.40 L 183.21 242.64 L 183.51 243.79 L 183.81 244.86 L 184.10 245.82 L 184.40 246.68 L 184.70 247.42 L 185.00 248.06 L 185.30 248.59 L 185.60 249.04 L 185.90 249.40 L 186.19 249.69 L 186.49 249.92 L 186.79 250.09 L 187.09 250.23 L 187.39 250.33 L 187.69 250.41 L 187.99 250.47 L 188.29 250.51 L 188.59 250.54 L 188.88 250.56 L 189.18 250.57 L 189.48 250.58 L 208.90 250.60" fill="none" stroke="#c0123e" stroke-width="1.15"/>
<path d="M 137.20 239.80 L 161.40 239.78 L 161.70 239.78 L 162.00 239.76 L 162.29 239.75 L 162.59 239.73 L 162.89 239.70 L 163.19 239.65 L 163.49 239.60 L 163.79 239.53 L 164.09 239.43 L 164.39 239.31 L 164.69 239.16 L 164.98 238.98 L 165.28 238.75 L 165.58 238.48 L 165.88 238.16 L 166.18 237.80 L 166.48 237.38 L 166.78 236.91 L 167.07 236.40 L 167.37 235.84 L 167.67 235.25 L 167.97 234.64 L 168.27 234.01 L 168.57 233.38 L 168.87 232.74 L 169.17 232.11 L 169.47 231.49 L 169.76 230.88 L 170.06 230.26 L 170.36 229.63 L 170.66 228.98 L 170.96 228.28 L 171.26 227.53 L 171.56 226.73 L 171.85 225.88 L 172.15 225.01 L 172.45 224.14 L 172.75 223.32 L 173.05 222.60 L 173.35 222.05 L 173.65 221.72 L 173.95 221.65 L 174.25 221.88 L 174.54 222.41 L 174.84 223.23 L 175.14 224.31 L 175.44 225.60 L 175.74 227.03 L 176.04 228.53 L 176.34 230.03 L 176.63 231.47 L 176.93 232.80 L 177.23 233.99 L 177.53 235.03 L 177.83 235.90 L 178.13 236.61 L 178.43 237.18 L 178.73 237.63 L 179.03 237.98 L 179.32 238.25 L 179.62 238.46 L 179.92 238.63 L 180.22 238.77 L 180.52 238.88 L 180.82 238.98 L 181.12 239.08 L 181.41 239.16 L 181.71 239.23 L 182.01 239.31 L 182.31 239.37 L 182.61 239.43 L 182.91 239.48 L 183.21 239.53 L 183.51 239.58 L 183.81 239.62 L 184.10 239.65 L 184.40 239.68 L 184.70 239.70 L 185.00 239.72 L 185.30 239.74 L 185.60 239.75 L 185.90 239.76 L 186.19 239.77 L 186.49 239.78 L 186.79 239.78 L 208.90 239.80 L 208.9 239.80 L 137.2 239.80 Z" fill="#a891bb" fill-opacity="1.0" stroke="none"/>
<path d="M 137.20 239.80 L 161.40 239.78 L 161.70 239.78 L 162.00 239.76 L 162.29 239.75 L 162.59 239.73 L 162.89 239.70 L 163.19 239.65 L 163.49 239.60 L 163.79 239.53 L 164.09 239.43 L 164.39 239.31 L 164.69 239.16 L 164.98 238.98 L 165.28 238.75 L 165.58 238.48 L 165.88 238.16 L 166.18 237.80 L 166.48 237.38 L 166.78 236.91 L 167.07 236.40 L 167.37 235.84 L 167.67 235.25 L 167.97 234.64 L 168.27 234.01 L 168.57 233.38 L 168.87 232.74 L 169.17 232.11 L 169.47 231.49 L 169.76 230.88 L 170.06 230.26 L 170.36 229.63 L 170.66 228.98 L 170.96 228.28 L 171.26 227.53 L 171.56 226.73 L 171.85 225.88 L 172.15 225.01 L 172.45 224.14 L 172.75 223.32 L 173.05 222.60 L 173.35 222.05 L 173.65 221.72 L 173.95 221.65 L 174.25 221.88 L 174.54 222.41 L 174.84 223.23 L 175.14 224.31 L 175.44 225.60 L 175.74 227.03 L 176.04 228.53 L 176.34 230.03 L 176.63 231.47 L 176.93 232.80 L 177.23 233.99 L 177.53 235.03 L 177.83 235.90 L 178.13 236.61 L 178.43 237.18 L 178.73 237.63 L 179.03 237.98 L 179.32 238.25 L 179.62 238.46 L 179.92 238.63 L 180.22 238.77 L 180.52 238.88 L 180.82 238.98 L 181.12 239.08 L 181.41 239.16 L 181.71 239.23 L 182.01 239.31 L 182.31 239.37 L 182.61 239.43 L 182.91 239.48 L 183.21 239.53 L 183.51 239.58 L 183.81 239.62 L 184.10 239.65 L 184.40 239.68 L 184.70 239.70 L 185.00 239.72 L 185.30 239.74 L 185.60 239.75 L 185.90 239.76 L 186.19 239.77 L 186.49 239.78 L 186.79 239.78 L 208.90 239.80" fill="none" stroke="#66358a" stroke-width="1.15"/>
<path d="M 137.20 229.60 L 154.53 229.58 L 154.83 229.58 L 155.12 229.57 L 155.42 229.57 L 155.72 229.56 L 156.02 229.55 L 156.32 229.54 L 156.62 229.52 L 156.92 229.51 L 157.22 229.49 L 157.51 229.47 L 157.81 229.44 L 158.11 229.41 L 158.41 229.38 L 158.71 229.35 L 159.01 229.31 L 159.31 229.26 L 159.61 229.21 L 159.91 229.16 L 160.20 229.10 L 160.50 229.04 L 160.80 228.97 L 161.10 228.90 L 161.40 228.83 L 161.70 228.76 L 162.00 228.68 L 162.29 228.60 L 162.59 228.53 L 162.89 228.45 L 163.19 228.38 L 163.49 228.31 L 163.79 228.24 L 164.09 228.18 L 164.39 228.13 L 164.69 228.08 L 164.98 228.04 L 165.28 228.00 L 165.58 227.97 L 165.88 227.95 L 166.18 227.94 L 166.48 227.93 L 166.78 227.92 L 167.07 227.92 L 167.37 227.92 L 167.67 227.92 L 167.97 227.93 L 168.27 227.93 L 168.57 227.94 L 168.87 227.94 L 169.17 227.94 L 169.47 227.95 L 169.76 227.95 L 170.06 227.96 L 170.36 227.97 L 170.66 227.98 L 170.96 228.00 L 171.26 228.03 L 171.56 228.07 L 171.85 228.11 L 172.15 228.17 L 172.45 228.23 L 172.75 228.30 L 173.05 228.37 L 173.35 228.43 L 173.65 228.47 L 173.95 228.48 L 174.25 228.43 L 174.54 228.30 L 174.84 228.07 L 175.14 227.70 L 175.44 227.17 L 175.74 226.46 L 176.04 225.58 L 176.34 224.57 L 176.63 223.47 L 176.93 222.36 L 177.23 221.32 L 177.53 220.42 L 177.83 219.70 L 178.13 219.17 L 178.43 218.76 L 178.73 218.35 L 179.03 217.80 L 179.32 217.00 L 179.62 215.88 L 179.92 214.50 L 180.22 213.00 L 180.52 211.66 L 180.82 210.77 L 181.12 210.58 L 181.41 211.23 L 181.71 212.72 L 182.01 214.87 L 182.31 217.43 L 182.61 220.07 L 182.91 222.55 L 183.21 224.67 L 183.51 226.34 L 183.81 227.56 L 184.10 228.40 L 184.40 228.93 L 184.70 229.25 L 185.00 229.42 L 185.30 229.52 L 185.60 229.56 L 185.90 229.58 L 208.90 229.60 L 208.9 229.60 L 137.2 229.60 Z" fill="#a3b4d4" fill-opacity="1.0" stroke="none"/>
<path d="M 137.20 229.60 L 154.53 229.58 L 154.83 229.58 L 155.12 229.57 L 155.42 229.57 L 155.72 229.56 L 156.02 229.55 L 156.32 229.54 L 156.62 229.52 L 156.92 229.51 L 157.22 229.49 L 157.51 229.47 L 157.81 229.44 L 158.11 229.41 L 158.41 229.38 L 158.71 229.35 L 159.01 229.31 L 159.31 229.26 L 159.61 229.21 L 159.91 229.16 L 160.20 229.10 L 160.50 229.04 L 160.80 228.97 L 161.10 228.90 L 161.40 228.83 L 161.70 228.76 L 162.00 228.68 L 162.29 228.60 L 162.59 228.53 L 162.89 228.45 L 163.19 228.38 L 163.49 228.31 L 163.79 228.24 L 164.09 228.18 L 164.39 228.13 L 164.69 228.08 L 164.98 228.04 L 165.28 228.00 L 165.58 227.97 L 165.88 227.95 L 166.18 227.94 L 166.48 227.93 L 166.78 227.92 L 167.07 227.92 L 167.37 227.92 L 167.67 227.92 L 167.97 227.93 L 168.27 227.93 L 168.57 227.94 L 168.87 227.94 L 169.17 227.94 L 169.47 227.95 L 169.76 227.95 L 170.06 227.96 L 170.36 227.97 L 170.66 227.98 L 170.96 228.00 L 171.26 228.03 L 171.56 228.07 L 171.85 228.11 L 172.15 228.17 L 172.45 228.23 L 172.75 228.30 L 173.05 228.37 L 173.35 228.43 L 173.65 228.47 L 173.95 228.48 L 174.25 228.43 L 174.54 228.30 L 174.84 228.07 L 175.14 227.70 L 175.44 227.17 L 175.74 226.46 L 176.04 225.58 L 176.34 224.57 L 176.63 223.47 L 176.93 222.36 L 177.23 221.32 L 177.53 220.42 L 177.83 219.70 L 178.13 219.17 L 178.43 218.76 L 178.73 218.35 L 179.03 217.80 L 179.32 217.00 L 179.62 215.88 L 179.92 214.50 L 180.22 213.00 L 180.52 211.66 L 180.82 210.77 L 181.12 210.58 L 181.41 211.23 L 181.71 212.72 L 182.01 214.87 L 182.31 217.43 L 182.61 220.07 L 182.91 222.55 L 183.21 224.67 L 183.51 226.34 L 183.81 227.56 L 184.10 228.40 L 184.40 228.93 L 184.70 229.25 L 185.00 229.42 L 185.30 229.52 L 185.60 229.56 L 185.90 229.58 L 208.90 229.60" fill="none" stroke="#365796" stroke-width="1.15"/>
<path d="M 137.20 218.80 L 154.53 218.78 L 154.83 218.78 L 155.12 218.77 L 155.42 218.76 L 155.72 218.75 L 156.02 218.73 L 156.32 218.70 L 156.62 218.67 L 156.92 218.62 L 157.22 218.57 L 157.51 218.49 L 157.81 218.40 L 158.11 218.29 L 158.41 218.15 L 158.71 217.97 L 159.01 217.76 L 159.31 217.50 L 159.61 217.20 L 159.91 216.84 L 160.20 216.42 L 160.50 215.94 L 160.80 215.39 L 161.10 214.78 L 161.40 214.09 L 161.70 213.34 L 162.00 212.52 L 162.29 211.65 L 162.59 210.73 L 162.89 209.78 L 163.19 208.80 L 163.49 207.81 L 163.79 206.83 L 164.09 205.87 L 164.39 204.95 L 164.69 204.09 L 164.98 203.31 L 165.28 202.62 L 165.58 202.02 L 165.88 201.53 L 166.18 201.18 L 166.48 201.06 L 166.78 201.17 L 167.07 201.48 L 167.37 201.96 L 167.67 202.56 L 167.97 203.22 L 168.27 203.92 L 168.57 204.59 L 168.87 205.22 L 169.17 205.78 L 169.47 206.25 L 169.76 206.63 L 170.06 206.92 L 170.36 207.14 L 170.66 207.29 L 170.96 207.39 L 171.26 207.46 L 171.56 207.51 L 171.85 207.56 L 172.15 207.62 L 172.45 207.70 L 172.75 207.80 L 173.05 207.94 L 173.35 208.11 L 173.65 208.31 L 173.95 208.55 L 174.25 208.83 L 174.54 209.14 L 174.84 209.47 L 175.14 209.83 L 175.44 210.22 L 175.74 210.62 L 176.04 211.03 L 176.34 211.46 L 176.63 211.89 L 176.93 212.32 L 177.23 212.75 L 177.53 213.18 L 177.83 213.60 L 178.13 214.01 L 178.43 214.40 L 178.73 214.78 L 179.03 215.14 L 179.32 215.48 L 179.62 215.81 L 179.92 216.11 L 180.22 216.39 L 180.52 216.66 L 180.82 216.90 L 181.12 217.12 L 181.41 217.32 L 181.71 217.50 L 182.01 217.67 L 182.31 217.82 L 182.61 217.95 L 182.91 218.07 L 183.21 218.17 L 183.51 218.26 L 183.81 218.34 L 184.10 218.41 L 184.40 218.47 L 184.70 218.53 L 185.00 218.57 L 185.30 218.61 L 185.60 218.64 L 185.90 218.67 L 186.19 218.69 L 186.49 218.71 L 186.79 218.73 L 187.09 218.74 L 187.39 218.75 L 187.69 218.76 L 187.99 218.77 L 188.29 218.78 L 188.59 218.78 L 208.90 218.80 L 208.9 218.80 L 137.2 218.80 Z" fill="#b8d7a5" fill-opacity="1.0" stroke="none"/>
<path d="M 137.20 218.80 L 154.53 218.78 L 154.83 218.78 L 155.12 218.77 L 155.42 218.76 L 155.72 218.75 L 156.02 218.73 L 156.32 218.70 L 156.62 218.67 L 156.92 218.62 L 157.22 218.57 L 157.51 218.49 L 157.81 218.40 L 158.11 218.29 L 158.41 218.15 L 158.71 217.97 L 159.01 217.76 L 159.31 217.50 L 159.61 217.20 L 159.91 216.84 L 160.20 216.42 L 160.50 215.94 L 160.80 215.39 L 161.10 214.78 L 161.40 214.09 L 161.70 213.34 L 162.00 212.52 L 162.29 211.65 L 162.59 210.73 L 162.89 209.78 L 163.19 208.80 L 163.49 207.81 L 163.79 206.83 L 164.09 205.87 L 164.39 204.95 L 164.69 204.09 L 164.98 203.31 L 165.28 202.62 L 165.58 202.02 L 165.88 201.53 L 166.18 201.18 L 166.48 201.06 L 166.78 201.17 L 167.07 201.48 L 167.37 201.96 L 167.67 202.56 L 167.97 203.22 L 168.27 203.92 L 168.57 204.59 L 168.87 205.22 L 169.17 205.78 L 169.47 206.25 L 169.76 206.63 L 170.06 206.92 L 170.36 207.14 L 170.66 207.29 L 170.96 207.39 L 171.26 207.46 L 171.56 207.51 L 171.85 207.56 L 172.15 207.62 L 172.45 207.70 L 172.75 207.80 L 173.05 207.94 L 173.35 208.11 L 173.65 208.31 L 173.95 208.55 L 174.25 208.83 L 174.54 209.14 L 174.84 209.47 L 175.14 209.83 L 175.44 210.22 L 175.74 210.62 L 176.04 211.03 L 176.34 211.46 L 176.63 211.89 L 176.93 212.32 L 177.23 212.75 L 177.53 213.18 L 177.83 213.60 L 178.13 214.01 L 178.43 214.40 L 178.73 214.78 L 179.03 215.14 L 179.32 215.48 L 179.62 215.81 L 179.92 216.11 L 180.22 216.39 L 180.52 216.66 L 180.82 216.90 L 181.12 217.12 L 181.41 217.32 L 181.71 217.50 L 182.01 217.67 L 182.31 217.82 L 182.61 217.95 L 182.91 218.07 L 183.21 218.17 L 183.51 218.26 L 183.81 218.34 L 184.10 218.41 L 184.40 218.47 L 184.70 218.53 L 185.00 218.57 L 185.30 218.61 L 185.60 218.64 L 185.90 218.67 L 186.19 218.69 L 186.49 218.71 L 186.79 218.73 L 187.09 218.74 L 187.39 218.75 L 187.69 218.76 L 187.99 218.77 L 188.29 218.78 L 188.59 218.78 L 208.90 218.80" fill="none" stroke="#68ac3c" stroke-width="1.15"/>
<path d="M 137.20 208.10 L 170.06 208.08 L 170.36 208.07 L 170.66 208.05 L 170.96 208.02 L 171.26 207.98 L 171.56 207.92 L 171.85 207.83 L 172.15 207.71 L 172.45 207.54 L 172.75 207.32 L 173.05 207.02 L 173.35 206.63 L 173.65 206.13 L 173.95 205.52 L 174.25 204.77 L 174.54 203.89 L 174.84 202.86 L 175.14 201.69 L 175.44 200.40 L 175.74 199.01 L 176.04 197.56 L 176.34 196.08 L 176.63 194.65 L 176.93 193.30 L 177.23 192.10 L 177.53 191.11 L 177.83 190.38 L 178.13 189.93 L 178.43 189.80 L 178.73 189.99 L 179.03 190.49 L 179.32 191.28 L 179.62 192.31 L 179.92 193.54 L 180.22 194.91 L 180.52 196.35 L 180.82 197.83 L 181.12 199.27 L 181.41 200.64 L 181.71 201.91 L 182.01 203.06 L 182.31 204.06 L 182.61 204.92 L 182.91 205.64 L 183.21 206.23 L 183.51 206.71 L 183.81 207.08 L 184.10 207.36 L 184.40 207.58 L 184.70 207.74 L 185.00 207.85 L 185.30 207.93 L 185.60 207.99 L 185.90 208.03 L 186.19 208.05 L 186.49 208.07 L 186.79 208.08 L 208.90 208.10 L 208.9 208.10 L 137.2 208.10 Z" fill="#ecc48c" fill-opacity="1.0" stroke="none"/>
<path d="M 137.20 208.10 L 170.06 208.08 L 170.36 208.07 L 170.66 208.05 L 170.96 208.02 L 171.26 207.98 L 171.56 207.92 L 171.85 207.83 L 172.15 207.71 L 172.45 207.54 L 172.75 207.32 L 173.05 207.02 L 173.35 206.63 L 173.65 206.13 L 173.95 205.52 L 174.25 204.77 L 174.54 203.89 L 174.84 202.86 L 175.14 201.69 L 175.44 200.40 L 175.74 199.01 L 176.04 197.56 L 176.34 196.08 L 176.63 194.65 L 176.93 193.30 L 177.23 192.10 L 177.53 191.11 L 177.83 190.38 L 178.13 189.93 L 178.43 189.80 L 178.73 189.99 L 179.03 190.49 L 179.32 191.28 L 179.62 192.31 L 179.92 193.54 L 180.22 194.91 L 180.52 196.35 L 180.82 197.83 L 181.12 199.27 L 181.41 200.64 L 181.71 201.91 L 182.01 203.06 L 182.31 204.06 L 182.61 204.92 L 182.91 205.64 L 183.21 206.23 L 183.51 206.71 L 183.81 207.08 L 184.10 207.36 L 184.40 207.58 L 184.70 207.74 L 185.00 207.85 L 185.30 207.93 L 185.60 207.99 L 185.90 208.03 L 186.19 208.05 L 186.49 208.07 L 186.79 208.08 L 208.90 208.10" fill="none" stroke="#e8982a" stroke-width="1.15"/>
<line x1="166.60" y1="186.50" x2="166.60" y2="260.00" stroke="#222" stroke-width="0.9" stroke-dasharray="1 1.2"/>
<rect x="136.6" y="185.6" width="72.9" height="75" fill="none" stroke="#111" stroke-width="1.25"/>
<line x1="143.60" y1="260.50" x2="143.60" y2="263.20" stroke="#222" stroke-width="0.9" />
<line x1="148.09" y1="260.50" x2="148.09" y2="262.40" stroke="#333" stroke-width="0.7" />
<line x1="150.71" y1="260.50" x2="150.71" y2="262.40" stroke="#333" stroke-width="0.7" />
<line x1="152.57" y1="260.50" x2="152.57" y2="262.40" stroke="#333" stroke-width="0.7" />
<line x1="154.01" y1="260.50" x2="154.01" y2="262.40" stroke="#333" stroke-width="0.7" />
<line x1="155.19" y1="260.50" x2="155.19" y2="262.40" stroke="#333" stroke-width="0.7" />
<line x1="156.19" y1="260.50" x2="156.19" y2="262.40" stroke="#333" stroke-width="0.7" />
<line x1="157.06" y1="260.50" x2="157.06" y2="262.40" stroke="#333" stroke-width="0.7" />
<line x1="157.82" y1="260.50" x2="157.82" y2="262.40" stroke="#333" stroke-width="0.7" />
<line x1="158.50" y1="260.50" x2="158.50" y2="263.20" stroke="#222" stroke-width="0.9" />
<line x1="162.99" y1="260.50" x2="162.99" y2="262.40" stroke="#333" stroke-width="0.7" />
<line x1="165.61" y1="260.50" x2="165.61" y2="262.40" stroke="#333" stroke-width="0.7" />
<line x1="167.47" y1="260.50" x2="167.47" y2="262.40" stroke="#333" stroke-width="0.7" />
<line x1="168.91" y1="260.50" x2="168.91" y2="262.40" stroke="#333" stroke-width="0.7" />
<line x1="170.09" y1="260.50" x2="170.09" y2="262.40" stroke="#333" stroke-width="0.7" />
<line x1="171.09" y1="260.50" x2="171.09" y2="262.40" stroke="#333" stroke-width="0.7" />
<line x1="171.96" y1="260.50" x2="171.96" y2="262.40" stroke="#333" stroke-width="0.7" />
<line x1="172.72" y1="260.50" x2="172.72" y2="262.40" stroke="#333" stroke-width="0.7" />
<line x1="173.40" y1="260.50" x2="173.40" y2="263.20" stroke="#222" stroke-width="0.9" />
<line x1="177.89" y1="260.50" x2="177.89" y2="262.40" stroke="#333" stroke-width="0.7" />
<line x1="180.51" y1="260.50" x2="180.51" y2="262.40" stroke="#333" stroke-width="0.7" />
<line x1="182.37" y1="260.50" x2="182.37" y2="262.40" stroke="#333" stroke-width="0.7" />
<line x1="183.81" y1="260.50" x2="183.81" y2="262.40" stroke="#333" stroke-width="0.7" />
<line x1="184.99" y1="260.50" x2="184.99" y2="262.40" stroke="#333" stroke-width="0.7" />
<line x1="185.99" y1="260.50" x2="185.99" y2="262.40" stroke="#333" stroke-width="0.7" />
<line x1="186.86" y1="260.50" x2="186.86" y2="262.40" stroke="#333" stroke-width="0.7" />
<line x1="187.62" y1="260.50" x2="187.62" y2="262.40" stroke="#333" stroke-width="0.7" />
<line x1="188.30" y1="260.50" x2="188.30" y2="263.20" stroke="#222" stroke-width="0.9" />
<line x1="192.79" y1="260.50" x2="192.79" y2="262.40" stroke="#333" stroke-width="0.7" />
<line x1="195.41" y1="260.50" x2="195.41" y2="262.40" stroke="#333" stroke-width="0.7" />
<line x1="197.27" y1="260.50" x2="197.27" y2="262.40" stroke="#333" stroke-width="0.7" />
<line x1="198.71" y1="260.50" x2="198.71" y2="262.40" stroke="#333" stroke-width="0.7" />
<line x1="199.89" y1="260.50" x2="199.89" y2="262.40" stroke="#333" stroke-width="0.7" />
<line x1="200.89" y1="260.50" x2="200.89" y2="262.40" stroke="#333" stroke-width="0.7" />
<line x1="201.76" y1="260.50" x2="201.76" y2="262.40" stroke="#333" stroke-width="0.7" />
<line x1="202.52" y1="260.50" x2="202.52" y2="262.40" stroke="#333" stroke-width="0.7" />
<line x1="203.20" y1="260.50" x2="203.20" y2="263.20" stroke="#222" stroke-width="0.9" />
<line x1="207.69" y1="260.50" x2="207.69" y2="262.40" stroke="#333" stroke-width="0.7" />
<line x1="137.67" y1="260.50" x2="137.67" y2="262.40" stroke="#333" stroke-width="0.7" />
<line x1="139.11" y1="260.50" x2="139.11" y2="262.40" stroke="#333" stroke-width="0.7" />
<line x1="140.29" y1="260.50" x2="140.29" y2="262.40" stroke="#333" stroke-width="0.7" />
<line x1="141.29" y1="260.50" x2="141.29" y2="262.40" stroke="#333" stroke-width="0.7" />
<line x1="142.16" y1="260.50" x2="142.16" y2="262.40" stroke="#333" stroke-width="0.7" />
<line x1="142.92" y1="260.50" x2="142.92" y2="262.40" stroke="#333" stroke-width="0.7" />
<text x="142.80" y="273.60" font-size="8.2" text-anchor="middle" font-weight="normal" fill="#222" stroke="#222" stroke-width="0.22" textLength="8.8" lengthAdjust="spacingAndGlyphs" >10</text>
<text x="148.80" y="270.40" font-size="6.0" text-anchor="middle" font-weight="normal" fill="#222" stroke="#222" stroke-width="0.22" >1</text>
<text x="157.55" y="273.60" font-size="8.2" text-anchor="middle" font-weight="normal" fill="#222" stroke="#222" stroke-width="0.22" textLength="8.8" lengthAdjust="spacingAndGlyphs" >10</text>
<text x="163.55" y="270.40" font-size="6.0" text-anchor="middle" font-weight="normal" fill="#222" stroke="#222" stroke-width="0.22" >2</text>
<text x="172.30" y="273.60" font-size="8.2" text-anchor="middle" font-weight="normal" fill="#222" stroke="#222" stroke-width="0.22" textLength="8.8" lengthAdjust="spacingAndGlyphs" >10</text>
<text x="178.30" y="270.40" font-size="6.0" text-anchor="middle" font-weight="normal" fill="#222" stroke="#222" stroke-width="0.22" >3</text>
<text x="187.05" y="273.60" font-size="8.2" text-anchor="middle" font-weight="normal" fill="#222" stroke="#222" stroke-width="0.22" textLength="8.8" lengthAdjust="spacingAndGlyphs" >10</text>
<text x="193.05" y="270.40" font-size="6.0" text-anchor="middle" font-weight="normal" fill="#222" stroke="#222" stroke-width="0.22" >4</text>
<text x="201.80" y="273.60" font-size="8.2" text-anchor="middle" font-weight="normal" fill="#222" stroke="#222" stroke-width="0.22" textLength="8.8" lengthAdjust="spacingAndGlyphs" >10</text>
<text x="207.80" y="270.40" font-size="6.0" text-anchor="middle" font-weight="normal" fill="#222" stroke="#222" stroke-width="0.22" >5</text>
<line x1="136.60" y1="278.90" x2="204.00" y2="278.90" stroke="#222" stroke-width="1.4" />
<path d="M 203.2 276.4 L 209.4 278.9 L 203.2 281.4 Z" fill="#222"/>
<text x="172.95" y="290.30" font-size="9.6" text-anchor="middle" font-weight="normal" fill="#222" stroke="#222" stroke-width="0.22" textLength="24.2" lengthAdjust="spacingAndGlyphs" >pSTAT5</text>
<text x="211.80" y="205.90" font-size="7.6" text-anchor="start" font-weight="normal" fill="#222" stroke="#222" stroke-width="0.22" >IL-15</text>
<text x="211.80" y="216.35" font-size="7.6" text-anchor="start" font-weight="normal" fill="#222" stroke="#222" stroke-width="0.22" >IL-9</text>
<text x="211.80" y="226.80" font-size="7.6" text-anchor="start" font-weight="normal" fill="#222" stroke="#222" stroke-width="0.22" >IL-7</text>
<text x="211.80" y="237.25" font-size="7.6" text-anchor="start" font-weight="normal" fill="#222" stroke="#222" stroke-width="0.22" >IL-4</text>
<text x="211.80" y="247.70" font-size="7.6" text-anchor="start" font-weight="normal" fill="#222" stroke="#222" stroke-width="0.22" >IL-2</text>
<text x="211.80" y="258.15" font-size="7.6" text-anchor="start" font-weight="normal" fill="#222" stroke="#222" stroke-width="0.22" >Basal</text>
<line x1="277.90" y1="164.00" x2="277.90" y2="260.60" stroke="#222" stroke-width="1.3" />
<line x1="275.50" y1="260.00" x2="277.90" y2="260.00" stroke="#222" stroke-width="1.2" />
<text x="272.10" y="262.90" font-size="8.5" text-anchor="end" font-weight="normal" fill="#222" stroke="#222" stroke-width="0.22" textLength="4.3" lengthAdjust="spacingAndGlyphs" >0</text>
<line x1="275.50" y1="236.60" x2="277.90" y2="236.60" stroke="#222" stroke-width="1.2" />
<text x="272.10" y="239.50" font-size="8.5" text-anchor="end" font-weight="normal" fill="#222" stroke="#222" stroke-width="0.22" textLength="17.5" lengthAdjust="spacingAndGlyphs" >1000</text>
<line x1="275.50" y1="213.20" x2="277.90" y2="213.20" stroke="#222" stroke-width="1.2" />
<text x="272.10" y="216.10" font-size="8.5" text-anchor="end" font-weight="normal" fill="#222" stroke="#222" stroke-width="0.22" textLength="17.5" lengthAdjust="spacingAndGlyphs" >2000</text>
<line x1="275.50" y1="189.80" x2="277.90" y2="189.80" stroke="#222" stroke-width="1.2" />
<text x="272.10" y="192.70" font-size="8.5" text-anchor="end" font-weight="normal" fill="#222" stroke="#222" stroke-width="0.22" textLength="17.5" lengthAdjust="spacingAndGlyphs" >3000</text>
<line x1="275.50" y1="166.40" x2="277.90" y2="166.40" stroke="#222" stroke-width="1.2" />
<text x="272.10" y="169.30" font-size="8.5" text-anchor="end" font-weight="normal" fill="#222" stroke="#222" stroke-width="0.22" textLength="17.5" lengthAdjust="spacingAndGlyphs" >4000</text>
<line x1="277.60" y1="260.20" x2="359.40" y2="260.20" stroke="#222" stroke-width="1.35" />
<line x1="286.70" y1="260.20" x2="286.70" y2="263.20" stroke="#222" stroke-width="1.2" />
<line x1="299.40" y1="260.20" x2="299.40" y2="263.20" stroke="#222" stroke-width="1.2" />
<line x1="312.40" y1="260.20" x2="312.40" y2="263.20" stroke="#222" stroke-width="1.2" />
<line x1="325.00" y1="260.20" x2="325.00" y2="263.20" stroke="#222" stroke-width="1.2" />
<line x1="337.60" y1="260.20" x2="337.60" y2="263.20" stroke="#222" stroke-width="1.2" />
<line x1="350.50" y1="260.20" x2="350.50" y2="263.20" stroke="#222" stroke-width="1.2" />
<text x="249.10" y="212.10" font-size="9.2" text-anchor="middle" font-weight="normal" fill="#222" stroke="#222" stroke-width="0.22" textLength="38.4" lengthAdjust="spacingAndGlyphs" transform="rotate(-90 249.1 212.1)" >pSTAT5 MFI</text>
<rect x="282.20" y="250.80" width="8.60" height="9.40" fill="#c6c5ca"/>
<rect x="282.60" y="251.20" width="7.80" height="9.00" fill="none" stroke="#9e9da1" stroke-width="0.8"/>
<text x="290.10" y="269.80" font-size="8.2" text-anchor="end" font-weight="normal" fill="#222" stroke="#222" stroke-width="0.22" transform="rotate(-45 290.1 269.8)" >Basal</text>
<rect x="295.00" y="197.90" width="8.60" height="62.30" fill="#a3002a"/>
<rect x="295.40" y="198.30" width="7.80" height="61.90" fill="none" stroke="#820021" stroke-width="0.8"/>
<text x="302.90" y="269.80" font-size="8.2" text-anchor="end" font-weight="normal" fill="#222" stroke="#222" stroke-width="0.22" transform="rotate(-45 302.90000000000003 269.8)" >IL-2</text>
<rect x="307.90" y="233.70" width="8.60" height="26.50" fill="#54285f"/>
<rect x="308.30" y="234.10" width="7.80" height="26.10" fill="none" stroke="#43204c" stroke-width="0.8"/>
<text x="315.80" y="269.80" font-size="8.2" text-anchor="end" font-weight="normal" fill="#222" stroke="#222" stroke-width="0.22" transform="rotate(-45 315.8 269.8)" >IL-4</text>
<rect x="320.60" y="193.10" width="8.60" height="67.10" fill="#2e4a78"/>
<rect x="321.00" y="193.50" width="7.80" height="66.70" fill="none" stroke="#243b60" stroke-width="0.8"/>
<text x="328.50" y="269.80" font-size="8.2" text-anchor="end" font-weight="normal" fill="#222" stroke="#222" stroke-width="0.22" transform="rotate(-45 328.5 269.8)" >IL-7</text>
<rect x="333.30" y="250.60" width="8.60" height="9.60" fill="#6aa444"/>
<rect x="333.70" y="251.00" width="7.80" height="9.20" fill="none" stroke="#548336" stroke-width="0.8"/>
<text x="341.20" y="269.80" font-size="8.2" text-anchor="end" font-weight="normal" fill="#222" stroke="#222" stroke-width="0.22" transform="rotate(-45 341.20000000000005 269.8)" >IL-9</text>
<rect x="346.30" y="210.30" width="8.60" height="49.90" fill="#dc8a18"/>
<rect x="346.70" y="210.70" width="7.80" height="49.50" fill="none" stroke="#b06e13" stroke-width="0.8"/>
<text x="354.20" y="269.80" font-size="8.2" text-anchor="end" font-weight="normal" fill="#222" stroke="#222" stroke-width="0.22" transform="rotate(-45 354.20000000000005 269.8)" >IL-15</text>
<line x1="286.50" y1="249.20" x2="286.50" y2="251.60" stroke="#111" stroke-width="1.0" />
<line x1="284.30" y1="249.20" x2="288.70" y2="249.20" stroke="#111" stroke-width="1.0" />
<line x1="284.30" y1="251.60" x2="288.70" y2="251.60" stroke="#111" stroke-width="1.0" />
<circle cx="285.20" cy="248.60" r="0.9" fill="#111"/>
<circle cx="288.50" cy="250.80" r="0.9" fill="#111"/>
<line x1="299.30" y1="194.80" x2="299.30" y2="201.30" stroke="#111" stroke-width="1.0" />
<line x1="297.10" y1="194.80" x2="301.50" y2="194.80" stroke="#111" stroke-width="1.0" />
<line x1="297.10" y1="201.30" x2="301.50" y2="201.30" stroke="#111" stroke-width="1.0" />
<circle cx="299.20" cy="191.50" r="1.05" fill="#111"/>
<circle cx="297.30" cy="201.30" r="1.05" fill="#111"/>
<circle cx="301.90" cy="201.30" r="1.05" fill="#111"/>
<line x1="312.20" y1="231.50" x2="312.20" y2="235.50" stroke="#111" stroke-width="1.0" />
<line x1="310.00" y1="231.50" x2="314.40" y2="231.50" stroke="#111" stroke-width="1.0" />
<line x1="310.00" y1="235.50" x2="314.40" y2="235.50" stroke="#111" stroke-width="1.0" />
<circle cx="312.20" cy="229.80" r="0.9" fill="#111"/>
<circle cx="310.80" cy="234.60" r="0.9" fill="#111"/>
<circle cx="313.90" cy="234.80" r="0.9" fill="#111"/>
<line x1="324.90" y1="189.30" x2="324.90" y2="195.00" stroke="#111" stroke-width="1.0" />
<line x1="322.70" y1="189.30" x2="327.10" y2="189.30" stroke="#111" stroke-width="1.0" />
<line x1="322.70" y1="195.00" x2="327.10" y2="195.00" stroke="#111" stroke-width="1.0" />
<circle cx="324.90" cy="187.00" r="0.9" fill="#111"/>
<circle cx="323.30" cy="193.30" r="0.9" fill="#111"/>
<circle cx="326.80" cy="194.50" r="0.9" fill="#111"/>
<line x1="337.60" y1="249.60" x2="337.60" y2="251.30" stroke="#111" stroke-width="1.0" />
<line x1="335.40" y1="249.60" x2="339.80" y2="249.60" stroke="#111" stroke-width="1.0" />
<line x1="335.40" y1="251.30" x2="339.80" y2="251.30" stroke="#111" stroke-width="1.0" />
<circle cx="336.30" cy="250.00" r="0.9" fill="#111"/>
<circle cx="339.00" cy="250.50" r="0.9" fill="#111"/>
<line x1="350.60" y1="206.30" x2="350.60" y2="214.00" stroke="#111" stroke-width="1.0" />
<line x1="348.40" y1="206.30" x2="352.80" y2="206.30" stroke="#111" stroke-width="1.0" />
<line x1="348.40" y1="214.00" x2="352.80" y2="214.00" stroke="#111" stroke-width="1.0" />
<circle cx="350.60" cy="202.50" r="0.9" fill="#111"/>
<circle cx="350.60" cy="213.20" r="1.1" fill="#111"/>
<polygon points="294.48,184.05 294.90,185.02 295.95,185.12 295.16,185.82 295.39,186.85 294.48,186.32 293.56,186.85 293.79,185.82 293.00,185.12 294.05,185.02" fill="#111" stroke="#111" stroke-width="0.35"/>
<polygon points="297.83,184.05 298.25,185.02 299.30,185.12 298.51,185.82 298.74,186.85 297.83,186.32 296.91,186.85 297.14,185.82 296.35,185.12 297.40,185.02" fill="#111" stroke="#111" stroke-width="0.35"/>
<polygon points="301.18,184.05 301.60,185.02 302.65,185.12 301.86,185.82 302.09,186.85 301.18,186.32 300.26,186.85 300.49,185.82 299.70,185.12 300.75,185.02" fill="#111" stroke="#111" stroke-width="0.35"/>
<polygon points="304.53,184.05 304.95,185.02 306.00,185.12 305.21,185.82 305.44,186.85 304.53,186.32 303.61,186.85 303.84,185.82 303.05,185.12 304.10,185.02" fill="#111" stroke="#111" stroke-width="0.35"/>
<polygon points="310.32,224.75 310.75,225.72 311.80,225.82 311.01,226.52 311.24,227.55 310.32,227.02 309.41,227.55 309.64,226.52 308.85,225.82 309.90,225.72" fill="#111" stroke="#111" stroke-width="0.35"/>
<polygon points="313.68,224.75 314.10,225.72 315.15,225.82 314.36,226.52 314.59,227.55 313.68,227.02 312.76,227.55 312.99,226.52 312.20,225.82 313.25,225.72" fill="#111" stroke="#111" stroke-width="0.35"/>
<polygon points="319.98,180.45 320.40,181.42 321.45,181.52 320.66,182.22 320.89,183.25 319.98,182.72 319.06,183.25 319.29,182.22 318.50,181.52 319.55,181.42" fill="#111" stroke="#111" stroke-width="0.35"/>
<polygon points="323.33,180.45 323.75,181.42 324.80,181.52 324.01,182.22 324.24,183.25 323.33,182.72 322.41,183.25 322.64,182.22 321.85,181.52 322.90,181.42" fill="#111" stroke="#111" stroke-width="0.35"/>
<polygon points="326.68,180.45 327.10,181.42 328.15,181.52 327.36,182.22 327.59,183.25 326.68,182.72 325.76,183.25 325.99,182.22 325.20,181.52 326.25,181.42" fill="#111" stroke="#111" stroke-width="0.35"/>
<polygon points="330.03,180.45 330.45,181.42 331.50,181.52 330.71,182.22 330.94,183.25 330.03,182.72 329.11,183.25 329.34,182.22 328.55,181.52 329.60,181.42" fill="#111" stroke="#111" stroke-width="0.35"/>
<text x="337.20" y="246.30" font-size="7.8" text-anchor="middle" font-weight="normal" fill="#222" stroke="#222" stroke-width="0.22" textLength="13.2" lengthAdjust="spacingAndGlyphs" >N.S.</text>
<polygon points="345.38,194.75 345.80,195.72 346.85,195.82 346.06,196.52 346.29,197.55 345.38,197.02 344.46,197.55 344.69,196.52 343.90,195.82 344.95,195.72" fill="#111" stroke="#111" stroke-width="0.35"/>
<polygon points="348.73,194.75 349.15,195.72 350.20,195.82 349.41,196.52 349.64,197.55 348.73,197.02 347.81,197.55 348.04,196.52 347.25,195.82 348.30,195.72" fill="#111" stroke="#111" stroke-width="0.35"/>
<polygon points="352.07,194.75 352.50,195.72 353.55,195.82 352.76,196.52 352.99,197.55 352.07,197.02 351.16,197.55 351.39,196.52 350.60,195.82 351.65,195.72" fill="#111" stroke="#111" stroke-width="0.35"/>
<polygon points="355.43,194.75 355.85,195.72 356.90,195.82 356.11,196.52 356.34,197.55 355.43,197.02 354.51,197.55 354.74,196.52 353.95,195.82 355.00,195.72" fill="#111" stroke="#111" stroke-width="0.35"/>
<text x="374.60" y="155.70" font-size="11.6" text-anchor="start" font-weight="bold" fill="#111" stroke="#111" stroke-width="0" >D</text>
<line x1="407.40" y1="164.00" x2="407.40" y2="261.00" stroke="#222" stroke-width="1.3" />
<line x1="405.00" y1="260.60" x2="407.40" y2="260.60" stroke="#222" stroke-width="1.2" />
<text x="401.50" y="263.50" font-size="8.5" text-anchor="end" font-weight="normal" fill="#222" stroke="#222" stroke-width="0.22" textLength="4.3" lengthAdjust="spacingAndGlyphs" >0</text>
<line x1="405.00" y1="244.80" x2="407.40" y2="244.80" stroke="#222" stroke-width="1.2" />
<text x="401.50" y="247.70" font-size="8.5" text-anchor="end" font-weight="normal" fill="#222" stroke="#222" stroke-width="0.22" textLength="8.6" lengthAdjust="spacingAndGlyphs" >20</text>
<line x1="405.00" y1="229.00" x2="407.40" y2="229.00" stroke="#222" stroke-width="1.2" />
<text x="401.50" y="231.90" font-size="8.5" text-anchor="end" font-weight="normal" fill="#222" stroke="#222" stroke-width="0.22" textLength="8.6" lengthAdjust="spacingAndGlyphs" >40</text>
<line x1="405.00" y1="213.20" x2="407.40" y2="213.20" stroke="#222" stroke-width="1.2" />
<text x="401.50" y="216.10" font-size="8.5" text-anchor="end" font-weight="normal" fill="#222" stroke="#222" stroke-width="0.22" textLength="8.6" lengthAdjust="spacingAndGlyphs" >60</text>
<line x1="405.00" y1="197.40" x2="407.40" y2="197.40" stroke="#222" stroke-width="1.2" />
<text x="401.50" y="200.30" font-size="8.5" text-anchor="end" font-weight="normal" fill="#222" stroke="#222" stroke-width="0.22" textLength="8.6" lengthAdjust="spacingAndGlyphs" >80</text>
<line x1="405.00" y1="181.60" x2="407.40" y2="181.60" stroke="#222" stroke-width="1.2" />
<text x="401.50" y="184.50" font-size="8.5" text-anchor="end" font-weight="normal" fill="#222" stroke="#222" stroke-width="0.22" textLength="12.899999999999999" lengthAdjust="spacingAndGlyphs" >100</text>
<line x1="405.00" y1="165.80" x2="407.40" y2="165.80" stroke="#222" stroke-width="1.2" />
<text x="401.50" y="168.70" font-size="8.5" text-anchor="end" font-weight="normal" fill="#222" stroke="#222" stroke-width="0.22" textLength="12.899999999999999" lengthAdjust="spacingAndGlyphs" >120</text>
<line x1="407.40" y1="260.50" x2="462.00" y2="260.50" stroke="#222" stroke-width="1.35" />
<line x1="423.60" y1="260.50" x2="423.60" y2="263.50" stroke="#222" stroke-width="1.2" />
<line x1="447.60" y1="260.50" x2="447.60" y2="263.50" stroke="#222" stroke-width="1.2" />
<text x="382.80" y="211.60" font-size="9.1" text-anchor="middle" font-weight="normal" fill="#222" stroke="#222" stroke-width="0.22" textLength="91.5" lengthAdjust="spacingAndGlyphs" transform="rotate(-90 382.8 211.6)" >% viable relative to vehicle</text>
<rect x="415.80" y="234.60" width="15.70" height="25.90" fill="#b8d5ee"/>
<rect x="416.20" y="235.00" width="14.90" height="25.50" fill="none" stroke="#abc6dd" stroke-width="0.8"/>
<rect x="439.80" y="215.00" width="15.80" height="45.50" fill="#cc8c80"/>
<rect x="440.20" y="215.40" width="15.00" height="45.10" fill="none" stroke="#b37b70" stroke-width="0.8"/>
<line x1="423.60" y1="232.40" x2="423.60" y2="235.70" stroke="#111" stroke-width="1.0" />
<line x1="418.80" y1="232.40" x2="428.40" y2="232.40" stroke="#111" stroke-width="1.0" />
<line x1="418.80" y1="235.70" x2="428.40" y2="235.70" stroke="#111" stroke-width="1.0" />
<circle cx="422.00" cy="228.60" r="0.95" fill="#3d8ee0"/>
<circle cx="425.60" cy="231.00" r="0.95" fill="#3d8ee0"/>
<circle cx="421.00" cy="233.50" r="0.9" fill="#3d8ee0"/>
<line x1="447.80" y1="209.40" x2="447.80" y2="219.40" stroke="#111" stroke-width="1.0" />
<line x1="443.00" y1="209.40" x2="452.60" y2="209.40" stroke="#111" stroke-width="1.0" />
<line x1="443.00" y1="219.40" x2="452.60" y2="219.40" stroke="#111" stroke-width="1.0" />
<circle cx="447.40" cy="182.40" r="1.15" fill="#b0102c"/>
<circle cx="447.40" cy="188.00" r="1.15" fill="#b0102c"/>
<circle cx="445.80" cy="191.60" r="1.15" fill="#b0102c"/>
<circle cx="448.80" cy="191.60" r="1.15" fill="#b0102c"/>
<circle cx="447.40" cy="198.00" r="1.15" fill="#b0102c"/>
<circle cx="447.60" cy="239.00" r="1.15" fill="#b0102c"/>
<line x1="424.00" y1="173.60" x2="447.60" y2="173.60" stroke="#333" stroke-width="1.1" />
<polygon points="435.60,167.65 436.02,168.62 437.07,168.72 436.28,169.42 436.51,170.45 435.60,169.92 434.69,170.45 434.92,169.42 434.13,168.72 435.18,168.62" fill="#111" stroke="#111" stroke-width="0.35"/>
<text x="423.50" y="274.20" font-size="8.2" text-anchor="middle" font-weight="normal" fill="#222" stroke="#222" stroke-width="0.22" textLength="27.8" lengthAdjust="spacingAndGlyphs" >Control</text>
<text x="447.80" y="274.20" font-size="8.2" text-anchor="middle" font-weight="normal" fill="#222" stroke="#222" stroke-width="0.22" textLength="15.4" lengthAdjust="spacingAndGlyphs" >HLH</text>
<rect x="0.75" y="0.55" width="518.5" height="298.7" fill="none" stroke="#000" stroke-width="1.5"/>
</svg>
</body></html>
